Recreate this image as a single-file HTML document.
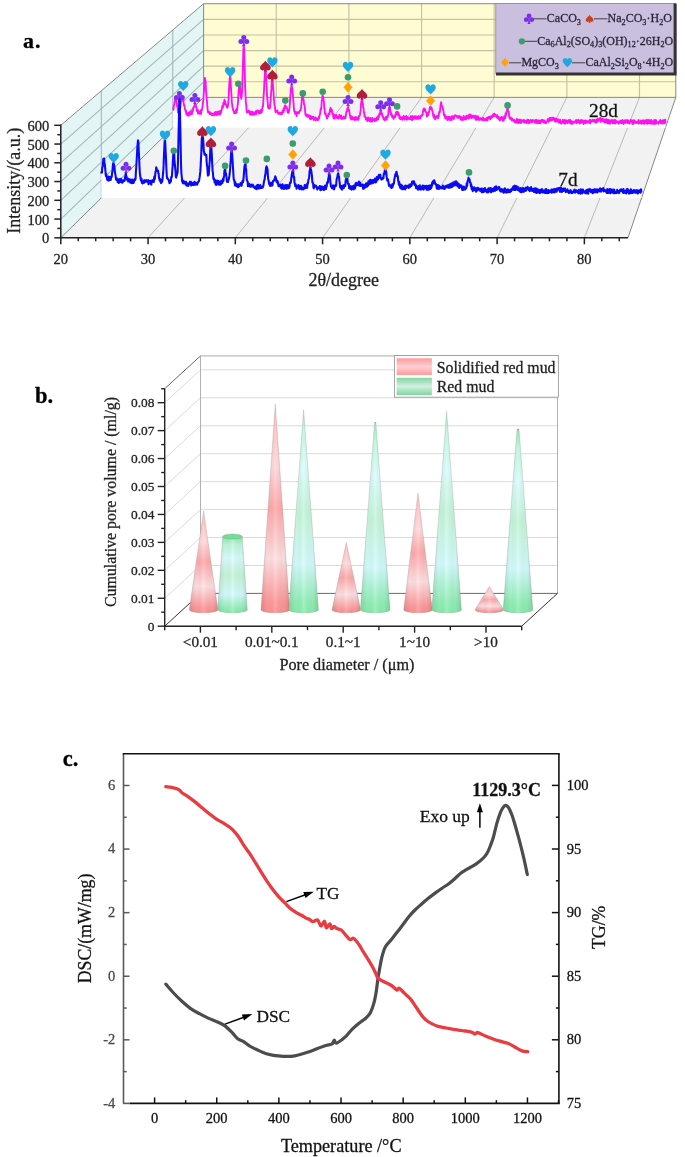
<!DOCTYPE html>
<html><head><meta charset="utf-8"><title>Figure</title>
<style>
html,body{margin:0;padding:0;background:#fff;}
body{width:685px;height:1157px;overflow:hidden;font-family:"Liberation Serif",serif;}
svg{display:block;filter:blur(0.45px);}
</style></head>
<body>
<svg width="685" height="1157" viewBox="0 0 685 1157">
<defs><linearGradient id="gR" x1="0" y1="0" x2="0" y2="1">
<stop offset="0" stop-color="#ffb0b2"/><stop offset="0.3" stop-color="#ffd9db"/><stop offset="0.5" stop-color="#ffa9ab"/>
<stop offset="0.74" stop-color="#ffe1e3"/><stop offset="0.95" stop-color="#ff999b"/><stop offset="1" stop-color="#ff9294"/></linearGradient><linearGradient id="gG" x1="0" y1="0" x2="0" y2="1">
<stop offset="0" stop-color="#86e8aa"/><stop offset="0.1" stop-color="#bef6da"/><stop offset="0.28" stop-color="#dafdfd"/><stop offset="0.5" stop-color="#c6f6da"/>
<stop offset="0.76" stop-color="#d4fcfe"/><stop offset="0.95" stop-color="#92f0b6"/><stop offset="1" stop-color="#8aeeb0"/></linearGradient><linearGradient id="gS" x1="0" y1="0" x2="1" y2="0">
<stop offset="0" stop-color="#000" stop-opacity="0.11"/><stop offset="0.25" stop-color="#000" stop-opacity="0.02"/>
<stop offset="0.5" stop-color="#fff" stop-opacity="0.12"/><stop offset="0.8" stop-color="#000" stop-opacity="0.03"/><stop offset="1" stop-color="#000" stop-opacity="0.13"/></linearGradient><linearGradient id="lR" x1="0" y1="0" x2="0" y2="1"><stop offset="0" stop-color="#ff9a9c"/><stop offset="0.5" stop-color="#ffd0d2"/><stop offset="1" stop-color="#ff9a9c"/></linearGradient><linearGradient id="lG" x1="0" y1="0" x2="0" y2="1"><stop offset="0" stop-color="#7fd6a0"/><stop offset="0.5" stop-color="#d2f0e0"/><stop offset="1" stop-color="#7fd6a0"/></linearGradient></defs>
<rect width="685" height="1157" fill="#fff"/>
<g id="panel-a">
<polygon points="203.61,97.38 675.80,97.38 675.80,3.73 203.61,3.73" fill="#fefcd2"/>
<polygon points="60.80,237.80 60.80,125.30 203.61,3.73 203.61,97.38" fill="#e3f6f5"/>
<polygon points="60.80,237.80 628.00,237.80 675.80,97.38 203.61,97.38" fill="#f2f2f2"/>
<g stroke="#c4c2a2" stroke-width="1.15" fill="none"><line x1="203.61" y1="81.78" x2="675.80" y2="81.78"/><line x1="203.61" y1="66.17" x2="675.80" y2="66.17"/><line x1="203.61" y1="50.56" x2="675.80" y2="50.56"/><line x1="203.61" y1="34.95" x2="675.80" y2="34.95"/><line x1="203.61" y1="19.34" x2="675.80" y2="19.34"/><line x1="276.26" y1="97.38" x2="276.26" y2="3.73"/><line x1="348.90" y1="97.38" x2="348.90" y2="3.73"/><line x1="421.55" y1="97.38" x2="421.55" y2="3.73"/><line x1="494.19" y1="97.38" x2="494.19" y2="3.73"/><line x1="566.84" y1="97.38" x2="566.84" y2="3.73"/><line x1="639.48" y1="97.38" x2="639.48" y2="3.73"/></g>
<g stroke="#a4b6b6" stroke-width="1.05" fill="none"><line x1="60.80" y1="219.05" x2="203.61" y2="81.78"/><line x1="60.80" y1="200.30" x2="203.61" y2="66.17"/><line x1="60.80" y1="181.55" x2="203.61" y2="50.56"/><line x1="60.80" y1="162.80" x2="203.61" y2="34.95"/><line x1="60.80" y1="144.05" x2="203.61" y2="19.34"/><line x1="101.30" y1="197.98" x2="101.30" y2="90.82"/><line x1="172.75" y1="127.73" x2="172.75" y2="30.00"/></g>
<g stroke="#b2b2b2" stroke-width="0.9" fill="none"><line x1="148.06" y1="237.80" x2="276.26" y2="97.38"/><line x1="235.32" y1="237.80" x2="348.90" y2="97.38"/><line x1="322.58" y1="237.80" x2="421.55" y2="97.38"/><line x1="409.85" y1="237.80" x2="494.19" y2="97.38"/><line x1="497.11" y1="237.80" x2="566.84" y2="97.38"/><line x1="584.37" y1="237.80" x2="639.48" y2="97.38"/></g>
<g stroke="#7a7a7a" stroke-width="0.9" fill="none"><line x1="203.61" y1="97.38" x2="675.80" y2="97.38"/><line x1="675.80" y1="97.38" x2="675.80" y2="3.73"/><line x1="675.80" y1="3.73" x2="203.61" y2="3.73"/><line x1="203.61" y1="3.73" x2="203.61" y2="97.38"/><line x1="60.80" y1="125.30" x2="203.61" y2="3.73"/><line x1="60.80" y1="237.80" x2="203.61" y2="97.38"/><line x1="628.00" y1="237.80" x2="675.80" y2="97.38"/></g>
<polygon points="172.7,108.7 173.0,108.5 173.4,109.8 173.7,106.9 174.1,105.0 174.4,104.0 174.8,100.9 175.1,97.4 175.5,96.6 175.8,99.0 176.2,98.3 176.5,101.5 176.9,103.6 177.2,106.7 177.6,107.6 177.9,112.2 178.3,109.8 178.6,112.7 179.0,108.9 179.3,111.7 179.7,109.3 180.0,108.9 180.4,107.4 180.7,103.9 181.1,101.8 181.4,101.6 181.8,97.4 182.1,95.6 182.5,98.3 182.8,98.3 183.2,98.3 183.5,101.5 183.9,105.4 184.2,104.9 184.6,106.3 184.9,109.2 185.3,109.4 185.6,111.3 186.0,110.6 186.3,114.2 186.7,114.8 187.0,113.2 187.4,113.3 187.7,112.9 188.1,115.8 188.4,115.5 188.8,114.6 189.1,112.5 189.5,112.5 189.8,114.9 190.2,112.4 190.5,114.4 190.9,113.1 191.2,111.2 191.6,111.6 191.9,114.1 192.3,110.9 192.6,111.5 193.0,110.8 193.3,108.0 193.7,107.1 194.0,107.3 194.4,105.7 194.7,104.2 195.1,104.3 195.4,104.5 195.8,105.4 196.1,107.7 196.5,107.2 196.8,111.0 197.2,109.5 197.5,110.0 197.9,113.7 198.2,110.1 198.6,112.0 198.9,112.7 199.3,112.3 199.6,113.9 200.0,113.2 200.3,112.4 200.7,110.1 201.0,114.0 201.4,111.1 201.7,110.5 202.1,108.9 202.4,107.3 202.8,104.6 203.1,101.4 203.5,99.3 203.8,92.6 204.2,87.9 204.5,83.5 204.9,77.9 205.2,80.6 205.6,81.0 205.9,88.5 206.3,94.4 206.6,97.9 207.0,101.8 207.3,106.1 207.7,110.3 208.0,112.3 208.4,112.2 208.7,111.6 209.1,112.0 209.4,113.6 209.8,112.2 210.1,114.3 210.5,112.6 210.8,113.7 211.2,113.5 211.5,113.6 211.9,115.0 212.2,115.3 212.6,114.9 212.9,114.3 213.3,113.3 213.6,113.3 214.0,113.7 214.3,115.3 214.7,114.9 215.0,112.2 215.4,112.8 215.7,112.0 216.1,113.0 216.4,115.2 216.8,114.3 217.1,111.8 217.5,114.8 217.8,114.2 218.2,113.5 218.5,111.6 218.9,111.5 219.2,111.6 219.6,114.8 219.9,112.7 220.3,111.0 220.6,113.7 221.0,111.8 221.3,110.6 221.7,109.9 222.0,108.0 222.4,105.9 222.7,107.6 223.1,106.5 223.4,102.8 223.8,102.6 224.1,103.2 224.5,99.6 224.8,104.2 225.2,101.5 225.5,103.9 225.9,103.9 226.2,105.6 226.6,106.3 226.9,107.1 227.3,107.8 227.6,107.6 228.0,104.8 228.3,102.3 228.7,98.1 229.0,89.0 229.4,83.1 229.7,78.9 230.1,75.3 230.4,76.7 230.8,85.2 231.1,90.4 231.5,96.1 231.8,102.4 232.2,104.7 232.5,107.7 232.9,108.4 233.2,110.5 233.6,110.5 233.9,111.8 234.3,113.3 234.6,113.0 235.0,112.5 235.3,112.1 235.7,113.1 236.0,110.0 236.4,112.8 236.7,108.7 237.1,110.4 237.4,106.7 237.8,104.5 238.1,101.6 238.5,92.8 238.8,89.1 239.2,84.5 239.5,83.9 239.9,85.3 240.2,90.6 240.6,95.6 240.9,96.6 241.3,98.9 241.6,96.9 242.0,92.7 242.3,85.2 242.7,73.4 243.0,63.3 243.4,48.9 243.7,44.6 244.1,48.6 244.4,57.6 244.8,72.3 245.1,85.9 245.5,95.1 245.8,102.6 246.2,104.4 246.5,110.1 246.9,112.0 247.2,112.6 247.6,112.4 247.9,112.0 248.3,110.7 248.6,110.4 249.0,112.0 249.3,111.1 249.7,113.0 250.0,114.5 250.4,111.7 250.7,113.1 251.1,111.6 251.4,114.8 251.8,113.5 252.1,113.3 252.5,113.0 252.8,111.8 253.2,114.8 253.5,112.8 253.9,114.8 254.2,114.0 254.6,114.5 254.9,112.1 255.3,113.4 255.6,113.2 256.0,111.0 256.3,114.2 256.7,111.8 257.0,112.3 257.4,110.5 257.7,112.0 258.1,110.8 258.4,111.4 258.8,113.7 259.1,110.9 259.5,113.0 259.8,111.1 260.2,112.3 260.5,113.0 260.9,110.3 261.2,109.6 261.6,112.5 261.9,109.3 262.3,110.1 262.6,106.2 263.0,106.5 263.3,102.6 263.7,94.6 264.0,91.0 264.4,81.3 264.7,77.5 265.1,69.4 265.4,69.2 265.8,70.2 266.1,79.2 266.5,83.5 266.8,91.3 267.2,98.1 267.5,100.4 267.9,105.5 268.2,107.5 268.6,108.4 268.9,107.8 269.3,108.1 269.6,108.3 270.0,108.0 270.3,102.7 270.7,101.5 271.0,94.0 271.4,88.9 271.7,82.1 272.1,77.8 272.4,78.8 272.8,82.6 273.1,87.4 273.5,92.2 273.8,99.8 274.2,100.5 274.5,105.2 274.9,106.3 275.2,110.1 275.6,112.4 275.9,110.5 276.3,111.7 276.6,110.9 277.0,111.3 277.4,110.4 277.7,112.7 278.1,113.3 278.4,113.8 278.8,113.7 279.1,113.2 279.5,112.6 279.8,114.0 280.2,113.3 280.5,113.4 280.9,112.8 281.2,114.4 281.6,113.1 281.9,114.0 282.3,112.5 282.6,110.7 283.0,111.7 283.3,112.5 283.7,108.2 284.0,110.8 284.4,108.2 284.7,106.3 285.1,105.2 285.4,105.8 285.8,107.6 286.1,107.3 286.5,106.7 286.8,108.9 287.2,108.7 287.5,111.8 287.9,112.7 288.2,110.8 288.6,112.9 288.9,111.7 289.3,109.8 289.6,107.0 290.0,101.1 290.3,96.8 290.7,92.3 291.0,87.9 291.4,86.6 291.7,86.0 292.1,87.9 292.4,89.5 292.8,94.9 293.1,98.0 293.5,102.8 293.8,107.5 294.2,111.1 294.5,111.9 294.9,112.9 295.2,113.9 295.6,111.8 295.9,112.6 296.3,112.3 296.6,116.0 297.0,113.1 297.3,112.7 297.7,112.1 298.0,113.2 298.4,113.4 298.7,113.1 299.1,112.9 299.4,111.7 299.8,111.0 300.1,110.2 300.5,110.4 300.8,109.1 301.2,107.1 301.5,103.5 301.9,98.2 302.2,95.6 302.6,96.3 302.9,95.1 303.3,98.9 303.6,100.0 304.0,104.3 304.3,104.3 304.7,106.8 305.0,109.3 305.4,114.6 305.7,114.2 306.1,115.2 306.4,116.2 306.8,114.4 307.1,116.2 307.5,116.8 307.8,115.1 308.2,115.5 308.5,115.3 308.9,116.7 309.2,115.4 309.6,115.6 309.9,118.9 310.3,119.0 310.6,116.1 311.0,119.4 311.3,116.4 311.7,118.1 312.0,117.7 312.4,116.9 312.7,118.0 313.1,117.6 313.4,116.8 313.8,120.0 314.1,119.9 314.5,118.2 314.8,118.9 315.2,117.4 315.5,119.9 315.9,120.2 316.2,118.3 316.6,118.2 316.9,118.6 317.3,119.0 317.6,120.1 318.0,119.8 318.3,119.9 318.7,116.9 319.0,118.6 319.4,116.4 319.7,114.9 320.1,113.8 320.4,111.2 320.8,108.5 321.1,109.6 321.5,106.1 321.8,100.3 322.2,99.6 322.5,95.1 322.9,97.8 323.2,96.5 323.6,100.2 323.9,102.0 324.3,108.7 324.6,108.4 325.0,113.9 325.3,114.2 325.7,113.3 326.0,114.9 326.4,116.2 326.7,118.1 327.1,118.5 327.4,115.8 327.8,116.2 328.1,116.5 328.5,113.7 328.8,114.2 329.2,114.4 329.5,114.3 329.9,109.5 330.2,110.6 330.6,107.8 330.9,108.5 331.3,111.1 331.6,111.9 332.0,110.2 332.3,113.7 332.7,114.4 333.0,113.6 333.4,118.0 333.7,114.3 334.1,118.7 334.4,114.9 334.8,118.5 335.1,115.5 335.5,116.8 335.8,115.7 336.2,114.9 336.5,116.1 336.9,117.9 337.2,118.2 337.6,116.8 337.9,117.4 338.3,117.2 338.6,118.6 339.0,117.2 339.3,114.8 339.7,116.4 340.0,116.6 340.4,116.4 340.7,118.3 341.1,115.5 341.4,118.4 341.8,118.9 342.1,118.2 342.5,118.6 342.8,118.8 343.2,117.1 343.5,116.9 343.9,116.6 344.2,118.6 344.6,118.2 344.9,118.3 345.3,118.3 345.6,117.3 346.0,113.8 346.3,112.5 346.7,111.0 347.0,111.7 347.4,108.2 347.7,107.9 348.1,106.9 348.4,110.5 348.8,109.7 349.1,109.9 349.5,112.5 349.8,115.6 350.2,116.4 350.5,118.5 350.9,116.1 351.2,119.5 351.6,118.1 351.9,116.4 352.3,117.5 352.6,117.5 353.0,119.5 353.3,118.0 353.7,118.6 354.0,119.4 354.4,117.3 354.7,120.0 355.1,119.5 355.4,119.7 355.8,117.0 356.1,119.5 356.5,119.7 356.8,119.2 357.2,118.5 357.5,117.4 357.9,119.6 358.2,119.8 358.6,119.3 358.9,115.9 359.3,116.0 359.6,115.9 360.0,114.4 360.3,112.3 360.7,110.2 361.0,104.2 361.4,101.0 361.7,101.2 362.1,98.9 362.4,103.7 362.8,103.1 363.1,107.5 363.5,107.8 363.8,112.6 364.2,112.4 364.5,116.6 364.9,116.3 365.2,116.4 365.6,117.7 365.9,119.5 366.3,118.0 366.6,118.9 367.0,119.7 367.3,121.0 367.7,119.3 368.0,117.4 368.4,119.8 368.7,118.0 369.1,120.5 369.4,121.0 369.8,119.2 370.1,119.2 370.5,117.9 370.8,121.6 371.2,120.6 371.5,118.6 371.9,120.7 372.2,121.4 372.6,117.9 372.9,119.9 373.3,119.4 373.6,120.1 374.0,120.1 374.3,119.2 374.7,121.3 375.0,118.7 375.4,120.3 375.7,120.3 376.1,119.2 376.4,120.3 376.8,117.5 377.1,117.5 377.5,119.7 377.8,116.4 378.2,119.3 378.5,116.4 378.9,117.2 379.2,114.1 379.6,113.2 379.9,114.5 380.3,113.8 380.6,111.2 381.0,111.5 381.3,114.2 381.7,114.6 382.0,113.1 382.4,116.6 382.7,115.4 383.1,117.3 383.4,118.9 383.8,117.8 384.1,119.7 384.5,120.3 384.8,118.9 385.2,118.3 385.5,118.8 385.9,119.4 386.2,116.4 386.6,119.7 386.9,118.2 387.3,117.5 387.6,117.2 388.0,115.4 388.3,114.3 388.7,109.0 389.0,111.2 389.4,110.8 389.7,108.2 390.1,109.0 390.4,110.1 390.8,114.5 391.1,112.8 391.5,114.0 391.8,114.4 392.2,117.3 392.5,116.0 392.9,116.9 393.2,116.3 393.6,118.8 393.9,118.0 394.3,116.4 394.6,117.1 395.0,117.3 395.3,114.8 395.7,113.7 396.0,112.6 396.4,111.9 396.7,114.7 397.1,112.3 397.4,111.8 397.8,112.1 398.1,115.3 398.5,113.0 398.8,115.7 399.2,114.8 399.5,118.6 399.9,116.4 400.2,118.4 400.6,119.2 400.9,118.1 401.3,117.6 401.6,118.8 402.0,117.4 402.3,119.5 402.7,119.7 403.0,116.7 403.4,116.9 403.7,116.0 404.1,117.6 404.4,118.6 404.8,119.5 405.1,117.0 405.5,116.9 405.8,116.6 406.2,115.9 406.5,118.5 406.9,119.7 407.2,116.9 407.6,119.0 407.9,117.2 408.3,118.3 408.6,118.4 409.0,118.9 409.3,119.2 409.7,118.7 410.0,117.7 410.4,119.1 410.7,116.8 411.1,116.0 411.4,118.5 411.8,120.0 412.1,118.7 412.5,119.8 412.8,116.0 413.2,117.1 413.5,118.9 413.9,118.8 414.2,117.4 414.6,117.2 414.9,116.2 415.3,118.5 415.6,117.5 416.0,116.3 416.3,118.9 416.7,117.7 417.0,116.6 417.4,118.9 417.7,118.8 418.1,117.7 418.4,118.9 418.8,116.0 419.1,117.9 419.5,117.9 419.8,118.2 420.2,118.6 420.5,117.2 420.9,117.0 421.2,115.7 421.6,115.2 421.9,115.8 422.3,114.9 422.6,115.0 423.0,111.0 423.3,110.0 423.7,108.7 424.0,108.4 424.4,110.9 424.7,110.4 425.1,109.2 425.4,111.5 425.8,111.9 426.1,112.1 426.5,113.7 426.8,116.5 427.2,115.6 427.5,113.9 427.9,112.8 428.2,115.3 428.6,114.0 428.9,112.2 429.3,110.5 429.6,108.8 430.0,107.0 430.3,109.1 430.7,107.1 431.0,107.2 431.4,107.7 431.7,108.0 432.1,110.6 432.4,111.0 432.8,113.3 433.1,115.0 433.5,116.7 433.8,117.7 434.2,115.0 434.5,116.9 434.9,117.0 435.2,119.5 435.6,119.0 435.9,116.8 436.3,116.4 436.6,117.4 437.0,117.2 437.3,115.6 437.7,116.9 438.0,118.2 438.4,116.9 438.7,116.0 439.1,112.2 439.4,111.5 439.8,112.3 440.1,110.1 440.5,105.7 440.8,104.6 441.2,102.2 441.5,104.2 441.9,106.1 442.2,105.9 442.6,107.1 442.9,109.1 443.3,110.6 443.6,112.1 444.0,115.4 444.3,114.7 444.7,114.7 445.0,117.5 445.4,118.6 445.7,117.2 446.1,118.4 446.4,116.6 446.8,118.0 447.1,117.9 447.5,120.1 447.8,117.4 448.2,117.0 448.5,119.4 448.9,119.5 449.2,116.8 449.6,117.2 449.9,116.7 450.3,120.1 450.6,120.1 451.0,119.7 451.3,118.8 451.7,119.8 452.0,116.2 452.4,116.5 452.7,116.3 453.1,116.8 453.4,116.7 453.8,119.1 454.1,116.6 454.5,115.6 454.8,115.3 455.2,115.2 455.5,115.8 455.9,116.1 456.2,116.0 456.6,116.6 456.9,115.6 457.3,117.9 457.6,116.6 458.0,117.2 458.3,117.8 458.7,117.9 459.0,115.9 459.4,117.9 459.7,116.1 460.1,117.8 460.4,117.1 460.8,119.7 461.1,117.0 461.5,119.0 461.8,119.7 462.2,118.1 462.5,120.0 462.9,119.6 463.2,117.5 463.6,115.9 463.9,118.3 464.3,119.3 464.6,118.1 465.0,117.2 465.3,119.3 465.7,118.2 466.0,119.4 466.4,115.7 466.7,118.0 467.1,118.1 467.4,116.2 467.8,116.9 468.1,116.4 468.5,115.1 468.8,118.6 469.2,115.9 469.5,118.0 469.9,114.4 470.2,115.2 470.6,115.1 470.9,114.8 471.3,118.1 471.6,116.8 472.0,116.7 472.3,116.1 472.7,115.8 473.0,117.8 473.4,115.8 473.7,117.0 474.1,117.5 474.4,117.3 474.8,117.2 475.1,115.6 475.5,119.5 475.8,119.3 476.2,116.1 476.5,119.9 476.9,117.6 477.2,118.2 477.6,119.2 477.9,116.1 478.3,117.5 478.6,119.0 479.0,120.0 479.3,119.0 479.7,118.2 480.0,119.7 480.4,118.2 480.7,118.1 481.1,119.6 481.4,119.1 481.8,118.4 482.1,119.0 482.5,120.1 482.8,118.0 483.2,117.8 483.5,119.0 483.9,120.0 484.2,119.7 484.6,120.3 484.9,120.5 485.3,118.8 485.6,120.1 486.0,119.6 486.3,119.4 486.7,118.4 487.0,117.8 487.4,120.6 487.7,117.6 488.1,117.4 488.4,117.6 488.8,118.4 489.1,116.8 489.5,117.7 489.8,116.9 490.2,119.4 490.5,116.5 490.9,117.9 491.2,118.2 491.6,116.1 491.9,116.0 492.3,117.2 492.6,116.6 493.0,116.1 493.3,114.0 493.7,116.3 494.0,115.0 494.4,113.6 494.7,115.3 495.1,115.8 495.4,114.6 495.8,116.1 496.1,116.3 496.5,115.7 496.8,117.3 497.2,115.2 497.5,118.1 497.9,116.6 498.2,117.9 498.6,116.7 498.9,119.2 499.3,118.3 499.6,120.5 500.0,120.2 500.3,119.8 500.7,117.7 501.0,117.2 501.4,117.5 501.7,116.9 502.1,119.4 502.4,117.6 502.8,120.8 503.1,120.8 503.5,120.4 503.8,119.9 504.2,116.3 504.5,117.5 504.9,116.1 505.2,118.3 505.6,113.2 505.9,115.8 506.3,113.4 506.6,111.7 507.0,110.8 507.3,108.1 507.7,108.0 508.0,111.1 508.4,111.6 508.7,111.5 509.1,115.6 509.4,117.5 509.8,118.7 510.1,118.5 510.5,118.0 510.8,117.4 511.2,119.7 511.5,119.9 511.9,120.6 512.2,118.6 512.6,118.9 512.9,119.8 513.3,119.9 513.6,120.9 514.0,121.0 514.3,120.4 514.7,120.1 515.0,122.6 515.4,121.3 515.7,121.5 516.1,120.6 516.4,122.6 516.8,119.1 517.1,119.0 517.5,121.1 517.8,122.2 518.2,123.1 518.5,120.5 518.9,119.8 519.2,122.3 519.6,119.6 519.9,122.7 520.3,119.7 520.6,121.3 521.0,123.1 521.3,120.1 521.7,121.6 522.0,121.4 522.4,120.8 522.7,121.4 523.1,120.2 523.4,121.9 523.8,122.2 524.1,119.9 524.5,122.7 524.8,122.0 525.2,120.9 525.5,121.5 525.9,122.5 526.2,120.7 526.6,120.4 526.9,123.1 527.3,122.8 527.6,119.7 528.0,121.4 528.3,122.2 528.7,119.9 529.0,123.4 529.4,121.3 529.7,121.7 530.1,120.7 530.4,121.0 530.8,120.0 531.1,121.9 531.5,122.5 531.8,120.7 532.2,122.0 532.5,119.9 532.9,120.9 533.2,120.5 533.6,120.5 533.9,120.3 534.3,121.4 534.6,122.2 535.0,122.9 535.3,121.9 535.7,120.0 536.0,122.6 536.4,119.8 536.7,122.9 537.1,123.2 537.4,123.0 537.8,120.5 538.1,120.3 538.5,120.7 538.8,123.0 539.2,122.8 539.5,123.1 539.9,120.4 540.2,123.3 540.6,121.9 540.9,121.5 541.3,121.4 541.6,119.9 542.0,120.8 542.3,121.7 542.7,120.0 543.0,121.0 543.4,122.3 543.7,122.2 544.1,120.3 544.4,121.9 544.8,121.5 545.1,123.0 545.5,121.4 545.8,122.0 546.2,123.0 546.5,121.8 546.9,121.4 547.2,120.8 547.6,119.5 547.9,119.4 548.3,118.8 548.6,121.9 549.0,118.9 549.3,120.9 549.7,117.9 550.0,120.3 550.4,117.9 550.7,120.6 551.1,118.5 551.4,119.8 551.8,120.3 552.1,117.6 552.5,118.2 552.8,119.8 553.2,118.4 553.5,117.7 553.9,118.8 554.2,118.9 554.6,118.4 554.9,121.3 555.3,119.8 555.6,121.8 556.0,118.5 556.3,118.9 556.7,120.6 557.0,120.7 557.4,121.4 557.7,119.4 558.1,119.2 558.4,122.4 558.8,119.9 559.1,122.6 559.5,122.6 559.8,122.1 560.2,119.8 560.5,123.3 560.9,123.2 561.2,122.2 561.6,123.6 561.9,122.1 562.3,121.0 562.6,119.9 563.0,122.2 563.3,121.1 563.7,121.6 564.0,123.1 564.4,119.8 564.7,121.5 565.1,123.8 565.4,122.9 565.8,120.3 566.1,120.2 566.5,122.1 566.8,121.7 567.2,120.6 567.5,123.3 567.9,121.2 568.2,121.3 568.6,122.1 568.9,119.9 569.3,121.6 569.6,122.9 570.0,121.5 570.3,120.0 570.7,122.1 571.0,123.9 571.4,122.9 571.7,121.2 572.1,121.3 572.4,123.2 572.8,123.8 573.1,122.0 573.5,122.0 573.8,122.6 574.2,122.4 574.5,121.9 574.9,121.3 575.2,121.9 575.6,120.8 575.9,120.2 576.3,123.4 576.6,120.4 577.0,120.1 577.3,120.1 577.7,120.1 578.0,122.4 578.4,122.6 578.7,119.8 579.1,120.6 579.4,120.9 579.8,123.6 580.1,123.1 580.5,122.5 580.8,120.3 581.2,121.3 581.5,122.5 581.9,119.9 582.2,121.9 582.6,121.1 582.9,121.8 583.3,123.1 583.6,124.0 584.0,120.5 584.3,121.3 584.7,122.2 585.0,122.0 585.4,123.2 585.7,120.4 586.1,120.9 586.4,121.7 586.8,121.0 587.1,122.9 587.5,122.2 587.8,121.3 588.2,121.9 588.5,121.3 588.9,121.5 589.2,122.8 589.6,119.8 589.9,122.0 590.3,123.3 590.6,119.9 591.0,120.6 591.3,120.5 591.7,121.6 592.0,121.6 592.4,120.3 592.7,119.8 593.1,120.4 593.4,120.5 593.8,121.2 594.1,119.9 594.5,120.5 594.8,119.9 595.2,122.6 595.5,122.3 595.9,120.1 596.2,121.8 596.6,122.4 596.9,119.5 597.3,121.9 597.6,118.6 598.0,119.2 598.3,120.9 598.7,120.7 599.0,120.3 599.4,120.6 599.7,118.2 600.1,118.2 600.4,117.9 600.8,121.9 601.1,119.3 601.5,120.0 601.8,119.7 602.2,118.5 602.5,121.0 602.9,120.0 603.2,121.6 603.6,120.6 603.9,119.3 604.3,119.5 604.6,122.7 605.0,121.7 605.3,122.1 605.7,120.9 606.0,119.4 606.4,119.2 606.7,122.4 607.1,121.1 607.4,123.4 607.8,120.9 608.1,119.7 608.5,122.6 608.8,123.6 609.2,123.4 609.5,120.2 609.9,123.7 610.2,122.2 610.6,120.9 610.9,120.5 611.3,120.3 611.6,120.6 612.0,119.9 612.3,123.1 612.7,122.0 613.0,123.2 613.4,121.9 613.7,120.5 614.1,122.4 614.4,119.8 614.8,123.6 615.1,119.9 615.5,120.7 615.8,123.1 616.2,120.9 616.5,122.1 616.9,122.6 617.2,121.9 617.6,121.5 617.9,122.9 618.3,122.8 618.6,123.6 619.0,123.6 619.3,121.3 619.7,122.0 620.0,122.6 620.4,122.5 620.7,120.7 621.1,123.1 621.4,122.4 621.8,123.2 622.1,120.9 622.5,119.9 622.8,121.8 623.2,121.7 623.5,124.0 623.9,121.1 624.2,121.1 624.6,120.4 624.9,120.3 625.3,123.0 625.6,120.4 626.0,120.6 626.3,120.1 626.7,120.1 627.0,120.9 627.4,123.1 627.7,120.2 628.1,120.3 628.4,122.2 628.8,122.9 629.1,122.4 629.5,123.5 629.8,123.4 630.2,120.7 630.5,119.9 630.9,120.6 631.2,120.7 631.6,120.3 631.9,120.9 632.3,124.0 632.6,122.4 633.0,123.5 633.3,120.1 633.7,123.7 634.0,122.0 634.4,121.8 634.7,120.5 635.1,122.2 635.4,122.6 635.8,123.0 636.1,122.1 636.5,122.8 636.8,122.0 637.2,122.5 637.5,121.4 637.9,122.6 638.2,123.4 638.6,119.9 638.9,123.5 639.3,121.4 639.6,121.4 640.0,121.9 640.3,122.2 640.7,123.1 641.0,120.4 641.4,123.8 641.7,120.8 642.1,120.9 642.4,122.1 642.8,123.2 643.1,120.1 643.5,123.6 643.8,120.6 644.2,123.9 644.5,120.4 644.9,123.3 645.2,122.6 645.6,122.1 645.9,121.3 646.3,119.9 646.6,123.3 647.0,122.4 647.3,123.9 647.7,120.3 648.0,119.8 648.4,120.8 648.7,123.0 649.1,120.1 649.4,123.4 649.8,120.3 650.1,122.5 650.5,122.9 650.8,123.6 651.2,120.0 651.5,123.1 651.9,122.2 652.2,123.7 652.6,121.1 652.9,123.0 653.3,123.8 653.6,123.4 654.0,123.8 654.3,120.0 654.7,123.8 655.0,123.6 655.4,123.7 655.7,120.0 656.1,120.4 656.4,123.5 656.8,122.3 657.1,122.4 657.5,122.3 657.8,122.6 658.2,122.9 658.5,123.7 658.9,121.6 659.2,121.6 659.6,122.7 659.9,120.9 660.3,119.9 660.6,120.4 661.0,123.4 661.3,122.5 661.7,121.0 662.0,120.8 662.4,121.7 662.7,123.6 663.1,120.1 663.4,120.1 663.8,122.0 664.1,120.2 664.5,123.4 664.8,123.1 665.2,119.7 665.5,123.1 665.5,127.7 172.7,127.7" fill="#ffffff"/>
<polyline points="172.7,108.7 173.0,108.5 173.4,109.8 173.7,106.9 174.1,105.0 174.4,104.0 174.8,100.9 175.1,97.4 175.5,96.6 175.8,99.0 176.2,98.3 176.5,101.5 176.9,103.6 177.2,106.7 177.6,107.6 177.9,112.2 178.3,109.8 178.6,112.7 179.0,108.9 179.3,111.7 179.7,109.3 180.0,108.9 180.4,107.4 180.7,103.9 181.1,101.8 181.4,101.6 181.8,97.4 182.1,95.6 182.5,98.3 182.8,98.3 183.2,98.3 183.5,101.5 183.9,105.4 184.2,104.9 184.6,106.3 184.9,109.2 185.3,109.4 185.6,111.3 186.0,110.6 186.3,114.2 186.7,114.8 187.0,113.2 187.4,113.3 187.7,112.9 188.1,115.8 188.4,115.5 188.8,114.6 189.1,112.5 189.5,112.5 189.8,114.9 190.2,112.4 190.5,114.4 190.9,113.1 191.2,111.2 191.6,111.6 191.9,114.1 192.3,110.9 192.6,111.5 193.0,110.8 193.3,108.0 193.7,107.1 194.0,107.3 194.4,105.7 194.7,104.2 195.1,104.3 195.4,104.5 195.8,105.4 196.1,107.7 196.5,107.2 196.8,111.0 197.2,109.5 197.5,110.0 197.9,113.7 198.2,110.1 198.6,112.0 198.9,112.7 199.3,112.3 199.6,113.9 200.0,113.2 200.3,112.4 200.7,110.1 201.0,114.0 201.4,111.1 201.7,110.5 202.1,108.9 202.4,107.3 202.8,104.6 203.1,101.4 203.5,99.3 203.8,92.6 204.2,87.9 204.5,83.5 204.9,77.9 205.2,80.6 205.6,81.0 205.9,88.5 206.3,94.4 206.6,97.9 207.0,101.8 207.3,106.1 207.7,110.3 208.0,112.3 208.4,112.2 208.7,111.6 209.1,112.0 209.4,113.6 209.8,112.2 210.1,114.3 210.5,112.6 210.8,113.7 211.2,113.5 211.5,113.6 211.9,115.0 212.2,115.3 212.6,114.9 212.9,114.3 213.3,113.3 213.6,113.3 214.0,113.7 214.3,115.3 214.7,114.9 215.0,112.2 215.4,112.8 215.7,112.0 216.1,113.0 216.4,115.2 216.8,114.3 217.1,111.8 217.5,114.8 217.8,114.2 218.2,113.5 218.5,111.6 218.9,111.5 219.2,111.6 219.6,114.8 219.9,112.7 220.3,111.0 220.6,113.7 221.0,111.8 221.3,110.6 221.7,109.9 222.0,108.0 222.4,105.9 222.7,107.6 223.1,106.5 223.4,102.8 223.8,102.6 224.1,103.2 224.5,99.6 224.8,104.2 225.2,101.5 225.5,103.9 225.9,103.9 226.2,105.6 226.6,106.3 226.9,107.1 227.3,107.8 227.6,107.6 228.0,104.8 228.3,102.3 228.7,98.1 229.0,89.0 229.4,83.1 229.7,78.9 230.1,75.3 230.4,76.7 230.8,85.2 231.1,90.4 231.5,96.1 231.8,102.4 232.2,104.7 232.5,107.7 232.9,108.4 233.2,110.5 233.6,110.5 233.9,111.8 234.3,113.3 234.6,113.0 235.0,112.5 235.3,112.1 235.7,113.1 236.0,110.0 236.4,112.8 236.7,108.7 237.1,110.4 237.4,106.7 237.8,104.5 238.1,101.6 238.5,92.8 238.8,89.1 239.2,84.5 239.5,83.9 239.9,85.3 240.2,90.6 240.6,95.6 240.9,96.6 241.3,98.9 241.6,96.9 242.0,92.7 242.3,85.2 242.7,73.4 243.0,63.3 243.4,48.9 243.7,44.6 244.1,48.6 244.4,57.6 244.8,72.3 245.1,85.9 245.5,95.1 245.8,102.6 246.2,104.4 246.5,110.1 246.9,112.0 247.2,112.6 247.6,112.4 247.9,112.0 248.3,110.7 248.6,110.4 249.0,112.0 249.3,111.1 249.7,113.0 250.0,114.5 250.4,111.7 250.7,113.1 251.1,111.6 251.4,114.8 251.8,113.5 252.1,113.3 252.5,113.0 252.8,111.8 253.2,114.8 253.5,112.8 253.9,114.8 254.2,114.0 254.6,114.5 254.9,112.1 255.3,113.4 255.6,113.2 256.0,111.0 256.3,114.2 256.7,111.8 257.0,112.3 257.4,110.5 257.7,112.0 258.1,110.8 258.4,111.4 258.8,113.7 259.1,110.9 259.5,113.0 259.8,111.1 260.2,112.3 260.5,113.0 260.9,110.3 261.2,109.6 261.6,112.5 261.9,109.3 262.3,110.1 262.6,106.2 263.0,106.5 263.3,102.6 263.7,94.6 264.0,91.0 264.4,81.3 264.7,77.5 265.1,69.4 265.4,69.2 265.8,70.2 266.1,79.2 266.5,83.5 266.8,91.3 267.2,98.1 267.5,100.4 267.9,105.5 268.2,107.5 268.6,108.4 268.9,107.8 269.3,108.1 269.6,108.3 270.0,108.0 270.3,102.7 270.7,101.5 271.0,94.0 271.4,88.9 271.7,82.1 272.1,77.8 272.4,78.8 272.8,82.6 273.1,87.4 273.5,92.2 273.8,99.8 274.2,100.5 274.5,105.2 274.9,106.3 275.2,110.1 275.6,112.4 275.9,110.5 276.3,111.7 276.6,110.9 277.0,111.3 277.4,110.4 277.7,112.7 278.1,113.3 278.4,113.8 278.8,113.7 279.1,113.2 279.5,112.6 279.8,114.0 280.2,113.3 280.5,113.4 280.9,112.8 281.2,114.4 281.6,113.1 281.9,114.0 282.3,112.5 282.6,110.7 283.0,111.7 283.3,112.5 283.7,108.2 284.0,110.8 284.4,108.2 284.7,106.3 285.1,105.2 285.4,105.8 285.8,107.6 286.1,107.3 286.5,106.7 286.8,108.9 287.2,108.7 287.5,111.8 287.9,112.7 288.2,110.8 288.6,112.9 288.9,111.7 289.3,109.8 289.6,107.0 290.0,101.1 290.3,96.8 290.7,92.3 291.0,87.9 291.4,86.6 291.7,86.0 292.1,87.9 292.4,89.5 292.8,94.9 293.1,98.0 293.5,102.8 293.8,107.5 294.2,111.1 294.5,111.9 294.9,112.9 295.2,113.9 295.6,111.8 295.9,112.6 296.3,112.3 296.6,116.0 297.0,113.1 297.3,112.7 297.7,112.1 298.0,113.2 298.4,113.4 298.7,113.1 299.1,112.9 299.4,111.7 299.8,111.0 300.1,110.2 300.5,110.4 300.8,109.1 301.2,107.1 301.5,103.5 301.9,98.2 302.2,95.6 302.6,96.3 302.9,95.1 303.3,98.9 303.6,100.0 304.0,104.3 304.3,104.3 304.7,106.8 305.0,109.3 305.4,114.6 305.7,114.2 306.1,115.2 306.4,116.2 306.8,114.4 307.1,116.2 307.5,116.8 307.8,115.1 308.2,115.5 308.5,115.3 308.9,116.7 309.2,115.4 309.6,115.6 309.9,118.9 310.3,119.0 310.6,116.1 311.0,119.4 311.3,116.4 311.7,118.1 312.0,117.7 312.4,116.9 312.7,118.0 313.1,117.6 313.4,116.8 313.8,120.0 314.1,119.9 314.5,118.2 314.8,118.9 315.2,117.4 315.5,119.9 315.9,120.2 316.2,118.3 316.6,118.2 316.9,118.6 317.3,119.0 317.6,120.1 318.0,119.8 318.3,119.9 318.7,116.9 319.0,118.6 319.4,116.4 319.7,114.9 320.1,113.8 320.4,111.2 320.8,108.5 321.1,109.6 321.5,106.1 321.8,100.3 322.2,99.6 322.5,95.1 322.9,97.8 323.2,96.5 323.6,100.2 323.9,102.0 324.3,108.7 324.6,108.4 325.0,113.9 325.3,114.2 325.7,113.3 326.0,114.9 326.4,116.2 326.7,118.1 327.1,118.5 327.4,115.8 327.8,116.2 328.1,116.5 328.5,113.7 328.8,114.2 329.2,114.4 329.5,114.3 329.9,109.5 330.2,110.6 330.6,107.8 330.9,108.5 331.3,111.1 331.6,111.9 332.0,110.2 332.3,113.7 332.7,114.4 333.0,113.6 333.4,118.0 333.7,114.3 334.1,118.7 334.4,114.9 334.8,118.5 335.1,115.5 335.5,116.8 335.8,115.7 336.2,114.9 336.5,116.1 336.9,117.9 337.2,118.2 337.6,116.8 337.9,117.4 338.3,117.2 338.6,118.6 339.0,117.2 339.3,114.8 339.7,116.4 340.0,116.6 340.4,116.4 340.7,118.3 341.1,115.5 341.4,118.4 341.8,118.9 342.1,118.2 342.5,118.6 342.8,118.8 343.2,117.1 343.5,116.9 343.9,116.6 344.2,118.6 344.6,118.2 344.9,118.3 345.3,118.3 345.6,117.3 346.0,113.8 346.3,112.5 346.7,111.0 347.0,111.7 347.4,108.2 347.7,107.9 348.1,106.9 348.4,110.5 348.8,109.7 349.1,109.9 349.5,112.5 349.8,115.6 350.2,116.4 350.5,118.5 350.9,116.1 351.2,119.5 351.6,118.1 351.9,116.4 352.3,117.5 352.6,117.5 353.0,119.5 353.3,118.0 353.7,118.6 354.0,119.4 354.4,117.3 354.7,120.0 355.1,119.5 355.4,119.7 355.8,117.0 356.1,119.5 356.5,119.7 356.8,119.2 357.2,118.5 357.5,117.4 357.9,119.6 358.2,119.8 358.6,119.3 358.9,115.9 359.3,116.0 359.6,115.9 360.0,114.4 360.3,112.3 360.7,110.2 361.0,104.2 361.4,101.0 361.7,101.2 362.1,98.9 362.4,103.7 362.8,103.1 363.1,107.5 363.5,107.8 363.8,112.6 364.2,112.4 364.5,116.6 364.9,116.3 365.2,116.4 365.6,117.7 365.9,119.5 366.3,118.0 366.6,118.9 367.0,119.7 367.3,121.0 367.7,119.3 368.0,117.4 368.4,119.8 368.7,118.0 369.1,120.5 369.4,121.0 369.8,119.2 370.1,119.2 370.5,117.9 370.8,121.6 371.2,120.6 371.5,118.6 371.9,120.7 372.2,121.4 372.6,117.9 372.9,119.9 373.3,119.4 373.6,120.1 374.0,120.1 374.3,119.2 374.7,121.3 375.0,118.7 375.4,120.3 375.7,120.3 376.1,119.2 376.4,120.3 376.8,117.5 377.1,117.5 377.5,119.7 377.8,116.4 378.2,119.3 378.5,116.4 378.9,117.2 379.2,114.1 379.6,113.2 379.9,114.5 380.3,113.8 380.6,111.2 381.0,111.5 381.3,114.2 381.7,114.6 382.0,113.1 382.4,116.6 382.7,115.4 383.1,117.3 383.4,118.9 383.8,117.8 384.1,119.7 384.5,120.3 384.8,118.9 385.2,118.3 385.5,118.8 385.9,119.4 386.2,116.4 386.6,119.7 386.9,118.2 387.3,117.5 387.6,117.2 388.0,115.4 388.3,114.3 388.7,109.0 389.0,111.2 389.4,110.8 389.7,108.2 390.1,109.0 390.4,110.1 390.8,114.5 391.1,112.8 391.5,114.0 391.8,114.4 392.2,117.3 392.5,116.0 392.9,116.9 393.2,116.3 393.6,118.8 393.9,118.0 394.3,116.4 394.6,117.1 395.0,117.3 395.3,114.8 395.7,113.7 396.0,112.6 396.4,111.9 396.7,114.7 397.1,112.3 397.4,111.8 397.8,112.1 398.1,115.3 398.5,113.0 398.8,115.7 399.2,114.8 399.5,118.6 399.9,116.4 400.2,118.4 400.6,119.2 400.9,118.1 401.3,117.6 401.6,118.8 402.0,117.4 402.3,119.5 402.7,119.7 403.0,116.7 403.4,116.9 403.7,116.0 404.1,117.6 404.4,118.6 404.8,119.5 405.1,117.0 405.5,116.9 405.8,116.6 406.2,115.9 406.5,118.5 406.9,119.7 407.2,116.9 407.6,119.0 407.9,117.2 408.3,118.3 408.6,118.4 409.0,118.9 409.3,119.2 409.7,118.7 410.0,117.7 410.4,119.1 410.7,116.8 411.1,116.0 411.4,118.5 411.8,120.0 412.1,118.7 412.5,119.8 412.8,116.0 413.2,117.1 413.5,118.9 413.9,118.8 414.2,117.4 414.6,117.2 414.9,116.2 415.3,118.5 415.6,117.5 416.0,116.3 416.3,118.9 416.7,117.7 417.0,116.6 417.4,118.9 417.7,118.8 418.1,117.7 418.4,118.9 418.8,116.0 419.1,117.9 419.5,117.9 419.8,118.2 420.2,118.6 420.5,117.2 420.9,117.0 421.2,115.7 421.6,115.2 421.9,115.8 422.3,114.9 422.6,115.0 423.0,111.0 423.3,110.0 423.7,108.7 424.0,108.4 424.4,110.9 424.7,110.4 425.1,109.2 425.4,111.5 425.8,111.9 426.1,112.1 426.5,113.7 426.8,116.5 427.2,115.6 427.5,113.9 427.9,112.8 428.2,115.3 428.6,114.0 428.9,112.2 429.3,110.5 429.6,108.8 430.0,107.0 430.3,109.1 430.7,107.1 431.0,107.2 431.4,107.7 431.7,108.0 432.1,110.6 432.4,111.0 432.8,113.3 433.1,115.0 433.5,116.7 433.8,117.7 434.2,115.0 434.5,116.9 434.9,117.0 435.2,119.5 435.6,119.0 435.9,116.8 436.3,116.4 436.6,117.4 437.0,117.2 437.3,115.6 437.7,116.9 438.0,118.2 438.4,116.9 438.7,116.0 439.1,112.2 439.4,111.5 439.8,112.3 440.1,110.1 440.5,105.7 440.8,104.6 441.2,102.2 441.5,104.2 441.9,106.1 442.2,105.9 442.6,107.1 442.9,109.1 443.3,110.6 443.6,112.1 444.0,115.4 444.3,114.7 444.7,114.7 445.0,117.5 445.4,118.6 445.7,117.2 446.1,118.4 446.4,116.6 446.8,118.0 447.1,117.9 447.5,120.1 447.8,117.4 448.2,117.0 448.5,119.4 448.9,119.5 449.2,116.8 449.6,117.2 449.9,116.7 450.3,120.1 450.6,120.1 451.0,119.7 451.3,118.8 451.7,119.8 452.0,116.2 452.4,116.5 452.7,116.3 453.1,116.8 453.4,116.7 453.8,119.1 454.1,116.6 454.5,115.6 454.8,115.3 455.2,115.2 455.5,115.8 455.9,116.1 456.2,116.0 456.6,116.6 456.9,115.6 457.3,117.9 457.6,116.6 458.0,117.2 458.3,117.8 458.7,117.9 459.0,115.9 459.4,117.9 459.7,116.1 460.1,117.8 460.4,117.1 460.8,119.7 461.1,117.0 461.5,119.0 461.8,119.7 462.2,118.1 462.5,120.0 462.9,119.6 463.2,117.5 463.6,115.9 463.9,118.3 464.3,119.3 464.6,118.1 465.0,117.2 465.3,119.3 465.7,118.2 466.0,119.4 466.4,115.7 466.7,118.0 467.1,118.1 467.4,116.2 467.8,116.9 468.1,116.4 468.5,115.1 468.8,118.6 469.2,115.9 469.5,118.0 469.9,114.4 470.2,115.2 470.6,115.1 470.9,114.8 471.3,118.1 471.6,116.8 472.0,116.7 472.3,116.1 472.7,115.8 473.0,117.8 473.4,115.8 473.7,117.0 474.1,117.5 474.4,117.3 474.8,117.2 475.1,115.6 475.5,119.5 475.8,119.3 476.2,116.1 476.5,119.9 476.9,117.6 477.2,118.2 477.6,119.2 477.9,116.1 478.3,117.5 478.6,119.0 479.0,120.0 479.3,119.0 479.7,118.2 480.0,119.7 480.4,118.2 480.7,118.1 481.1,119.6 481.4,119.1 481.8,118.4 482.1,119.0 482.5,120.1 482.8,118.0 483.2,117.8 483.5,119.0 483.9,120.0 484.2,119.7 484.6,120.3 484.9,120.5 485.3,118.8 485.6,120.1 486.0,119.6 486.3,119.4 486.7,118.4 487.0,117.8 487.4,120.6 487.7,117.6 488.1,117.4 488.4,117.6 488.8,118.4 489.1,116.8 489.5,117.7 489.8,116.9 490.2,119.4 490.5,116.5 490.9,117.9 491.2,118.2 491.6,116.1 491.9,116.0 492.3,117.2 492.6,116.6 493.0,116.1 493.3,114.0 493.7,116.3 494.0,115.0 494.4,113.6 494.7,115.3 495.1,115.8 495.4,114.6 495.8,116.1 496.1,116.3 496.5,115.7 496.8,117.3 497.2,115.2 497.5,118.1 497.9,116.6 498.2,117.9 498.6,116.7 498.9,119.2 499.3,118.3 499.6,120.5 500.0,120.2 500.3,119.8 500.7,117.7 501.0,117.2 501.4,117.5 501.7,116.9 502.1,119.4 502.4,117.6 502.8,120.8 503.1,120.8 503.5,120.4 503.8,119.9 504.2,116.3 504.5,117.5 504.9,116.1 505.2,118.3 505.6,113.2 505.9,115.8 506.3,113.4 506.6,111.7 507.0,110.8 507.3,108.1 507.7,108.0 508.0,111.1 508.4,111.6 508.7,111.5 509.1,115.6 509.4,117.5 509.8,118.7 510.1,118.5 510.5,118.0 510.8,117.4 511.2,119.7 511.5,119.9 511.9,120.6 512.2,118.6 512.6,118.9 512.9,119.8 513.3,119.9 513.6,120.9 514.0,121.0 514.3,120.4 514.7,120.1 515.0,122.6 515.4,121.3 515.7,121.5 516.1,120.6 516.4,122.6 516.8,119.1 517.1,119.0 517.5,121.1 517.8,122.2 518.2,123.1 518.5,120.5 518.9,119.8 519.2,122.3 519.6,119.6 519.9,122.7 520.3,119.7 520.6,121.3 521.0,123.1 521.3,120.1 521.7,121.6 522.0,121.4 522.4,120.8 522.7,121.4 523.1,120.2 523.4,121.9 523.8,122.2 524.1,119.9 524.5,122.7 524.8,122.0 525.2,120.9 525.5,121.5 525.9,122.5 526.2,120.7 526.6,120.4 526.9,123.1 527.3,122.8 527.6,119.7 528.0,121.4 528.3,122.2 528.7,119.9 529.0,123.4 529.4,121.3 529.7,121.7 530.1,120.7 530.4,121.0 530.8,120.0 531.1,121.9 531.5,122.5 531.8,120.7 532.2,122.0 532.5,119.9 532.9,120.9 533.2,120.5 533.6,120.5 533.9,120.3 534.3,121.4 534.6,122.2 535.0,122.9 535.3,121.9 535.7,120.0 536.0,122.6 536.4,119.8 536.7,122.9 537.1,123.2 537.4,123.0 537.8,120.5 538.1,120.3 538.5,120.7 538.8,123.0 539.2,122.8 539.5,123.1 539.9,120.4 540.2,123.3 540.6,121.9 540.9,121.5 541.3,121.4 541.6,119.9 542.0,120.8 542.3,121.7 542.7,120.0 543.0,121.0 543.4,122.3 543.7,122.2 544.1,120.3 544.4,121.9 544.8,121.5 545.1,123.0 545.5,121.4 545.8,122.0 546.2,123.0 546.5,121.8 546.9,121.4 547.2,120.8 547.6,119.5 547.9,119.4 548.3,118.8 548.6,121.9 549.0,118.9 549.3,120.9 549.7,117.9 550.0,120.3 550.4,117.9 550.7,120.6 551.1,118.5 551.4,119.8 551.8,120.3 552.1,117.6 552.5,118.2 552.8,119.8 553.2,118.4 553.5,117.7 553.9,118.8 554.2,118.9 554.6,118.4 554.9,121.3 555.3,119.8 555.6,121.8 556.0,118.5 556.3,118.9 556.7,120.6 557.0,120.7 557.4,121.4 557.7,119.4 558.1,119.2 558.4,122.4 558.8,119.9 559.1,122.6 559.5,122.6 559.8,122.1 560.2,119.8 560.5,123.3 560.9,123.2 561.2,122.2 561.6,123.6 561.9,122.1 562.3,121.0 562.6,119.9 563.0,122.2 563.3,121.1 563.7,121.6 564.0,123.1 564.4,119.8 564.7,121.5 565.1,123.8 565.4,122.9 565.8,120.3 566.1,120.2 566.5,122.1 566.8,121.7 567.2,120.6 567.5,123.3 567.9,121.2 568.2,121.3 568.6,122.1 568.9,119.9 569.3,121.6 569.6,122.9 570.0,121.5 570.3,120.0 570.7,122.1 571.0,123.9 571.4,122.9 571.7,121.2 572.1,121.3 572.4,123.2 572.8,123.8 573.1,122.0 573.5,122.0 573.8,122.6 574.2,122.4 574.5,121.9 574.9,121.3 575.2,121.9 575.6,120.8 575.9,120.2 576.3,123.4 576.6,120.4 577.0,120.1 577.3,120.1 577.7,120.1 578.0,122.4 578.4,122.6 578.7,119.8 579.1,120.6 579.4,120.9 579.8,123.6 580.1,123.1 580.5,122.5 580.8,120.3 581.2,121.3 581.5,122.5 581.9,119.9 582.2,121.9 582.6,121.1 582.9,121.8 583.3,123.1 583.6,124.0 584.0,120.5 584.3,121.3 584.7,122.2 585.0,122.0 585.4,123.2 585.7,120.4 586.1,120.9 586.4,121.7 586.8,121.0 587.1,122.9 587.5,122.2 587.8,121.3 588.2,121.9 588.5,121.3 588.9,121.5 589.2,122.8 589.6,119.8 589.9,122.0 590.3,123.3 590.6,119.9 591.0,120.6 591.3,120.5 591.7,121.6 592.0,121.6 592.4,120.3 592.7,119.8 593.1,120.4 593.4,120.5 593.8,121.2 594.1,119.9 594.5,120.5 594.8,119.9 595.2,122.6 595.5,122.3 595.9,120.1 596.2,121.8 596.6,122.4 596.9,119.5 597.3,121.9 597.6,118.6 598.0,119.2 598.3,120.9 598.7,120.7 599.0,120.3 599.4,120.6 599.7,118.2 600.1,118.2 600.4,117.9 600.8,121.9 601.1,119.3 601.5,120.0 601.8,119.7 602.2,118.5 602.5,121.0 602.9,120.0 603.2,121.6 603.6,120.6 603.9,119.3 604.3,119.5 604.6,122.7 605.0,121.7 605.3,122.1 605.7,120.9 606.0,119.4 606.4,119.2 606.7,122.4 607.1,121.1 607.4,123.4 607.8,120.9 608.1,119.7 608.5,122.6 608.8,123.6 609.2,123.4 609.5,120.2 609.9,123.7 610.2,122.2 610.6,120.9 610.9,120.5 611.3,120.3 611.6,120.6 612.0,119.9 612.3,123.1 612.7,122.0 613.0,123.2 613.4,121.9 613.7,120.5 614.1,122.4 614.4,119.8 614.8,123.6 615.1,119.9 615.5,120.7 615.8,123.1 616.2,120.9 616.5,122.1 616.9,122.6 617.2,121.9 617.6,121.5 617.9,122.9 618.3,122.8 618.6,123.6 619.0,123.6 619.3,121.3 619.7,122.0 620.0,122.6 620.4,122.5 620.7,120.7 621.1,123.1 621.4,122.4 621.8,123.2 622.1,120.9 622.5,119.9 622.8,121.8 623.2,121.7 623.5,124.0 623.9,121.1 624.2,121.1 624.6,120.4 624.9,120.3 625.3,123.0 625.6,120.4 626.0,120.6 626.3,120.1 626.7,120.1 627.0,120.9 627.4,123.1 627.7,120.2 628.1,120.3 628.4,122.2 628.8,122.9 629.1,122.4 629.5,123.5 629.8,123.4 630.2,120.7 630.5,119.9 630.9,120.6 631.2,120.7 631.6,120.3 631.9,120.9 632.3,124.0 632.6,122.4 633.0,123.5 633.3,120.1 633.7,123.7 634.0,122.0 634.4,121.8 634.7,120.5 635.1,122.2 635.4,122.6 635.8,123.0 636.1,122.1 636.5,122.8 636.8,122.0 637.2,122.5 637.5,121.4 637.9,122.6 638.2,123.4 638.6,119.9 638.9,123.5 639.3,121.4 639.6,121.4 640.0,121.9 640.3,122.2 640.7,123.1 641.0,120.4 641.4,123.8 641.7,120.8 642.1,120.9 642.4,122.1 642.8,123.2 643.1,120.1 643.5,123.6 643.8,120.6 644.2,123.9 644.5,120.4 644.9,123.3 645.2,122.6 645.6,122.1 645.9,121.3 646.3,119.9 646.6,123.3 647.0,122.4 647.3,123.9 647.7,120.3 648.0,119.8 648.4,120.8 648.7,123.0 649.1,120.1 649.4,123.4 649.8,120.3 650.1,122.5 650.5,122.9 650.8,123.6 651.2,120.0 651.5,123.1 651.9,122.2 652.2,123.7 652.6,121.1 652.9,123.0 653.3,123.8 653.6,123.4 654.0,123.8 654.3,120.0 654.7,123.8 655.0,123.6 655.4,123.7 655.7,120.0 656.1,120.4 656.4,123.5 656.8,122.3 657.1,122.4 657.5,122.3 657.8,122.6 658.2,122.9 658.5,123.7 658.9,121.6 659.2,121.6 659.6,122.7 659.9,120.9 660.3,119.9 660.6,120.4 661.0,123.4 661.3,122.5 661.7,121.0 662.0,120.8 662.4,121.7 662.7,123.6 663.1,120.1 663.4,120.1 663.8,122.0 664.1,120.2 664.5,123.4 664.8,123.1 665.2,119.7 665.5,123.1" fill="none" stroke="#ff10f0" stroke-width="1.85" stroke-linejoin="round"/>
<g transform="translate(179.40,96.30) scale(1.0)" fill="#7f2cf0"><circle cx="0" cy="-2.9" r="2.5"/><circle cx="-2.9" cy="1.1" r="2.5"/><circle cx="2.9" cy="1.1" r="2.5"/><path d="M-0.7,-1 L0.7,-1 L0.9,4.2 L1.8,5.6 L-1.8,5.6 L-0.9,4.2 Z"/></g><path transform="translate(183.20,86.00) scale(1.0)" fill="#1fa9e1" d="M0,5.2 C-1.5,3.2 -5.2,0.8 -5.2,-1.9 C-5.2,-4.1 -3.6,-5.1 -2.4,-5.1 C-1.1,-5.1 -0.3,-4.2 0,-3.2 C0.3,-4.2 1.1,-5.1 2.4,-5.1 C3.6,-5.1 5.2,-4.1 5.2,-1.9 C5.2,0.8 1.5,3.2 0,5.2 Z"/><g transform="translate(194.90,98.40) scale(1.0)" fill="#7f2cf0"><circle cx="0" cy="-2.9" r="2.5"/><circle cx="-2.9" cy="1.1" r="2.5"/><circle cx="2.9" cy="1.1" r="2.5"/><path d="M-0.7,-1 L0.7,-1 L0.9,4.2 L1.8,5.6 L-1.8,5.6 L-0.9,4.2 Z"/></g><path transform="translate(230.10,72.20) scale(1.0)" fill="#1fa9e1" d="M0,5.2 C-1.5,3.2 -5.2,0.8 -5.2,-1.9 C-5.2,-4.1 -3.6,-5.1 -2.4,-5.1 C-1.1,-5.1 -0.3,-4.2 0,-3.2 C0.3,-4.2 1.1,-5.1 2.4,-5.1 C3.6,-5.1 5.2,-4.1 5.2,-1.9 C5.2,0.8 1.5,3.2 0,5.2 Z"/><circle cx="238.30" cy="83.70" r="3.30" fill="#3d9b6d"/><g transform="translate(243.80,40.50) scale(1.0)" fill="#7f2cf0"><circle cx="0" cy="-2.9" r="2.5"/><circle cx="-2.9" cy="1.1" r="2.5"/><circle cx="2.9" cy="1.1" r="2.5"/><path d="M-0.7,-1 L0.7,-1 L0.9,4.2 L1.8,5.6 L-1.8,5.6 L-0.9,4.2 Z"/></g><path transform="translate(265.40,66.10) scale(1.0)" fill="#b01e3c" d="M0,-5.4 C-1.5,-3.2 -5.3,-1.2 -5.3,1.6 C-5.3,3.4 -3.9,4.3 -2.7,4.3 C-1.7,4.3 -1.0,3.8 -0.6,3.1 L-1.6,5.4 L1.6,5.4 L0.6,3.1 C1.0,3.8 1.7,4.3 2.7,4.3 C3.9,4.3 5.3,3.4 5.3,1.6 C5.3,-1.2 1.5,-3.2 0,-5.4 Z"/><path transform="translate(272.40,75.10) scale(1.0)" fill="#b01e3c" d="M0,-5.4 C-1.5,-3.2 -5.3,-1.2 -5.3,1.6 C-5.3,3.4 -3.9,4.3 -2.7,4.3 C-1.7,4.3 -1.0,3.8 -0.6,3.1 L-1.6,5.4 L1.6,5.4 L0.6,3.1 C1.0,3.8 1.7,4.3 2.7,4.3 C3.9,4.3 5.3,3.4 5.3,1.6 C5.3,-1.2 1.5,-3.2 0,-5.4 Z"/><path transform="translate(272.40,62.30) scale(1.0)" fill="#1fa9e1" d="M0,5.2 C-1.5,3.2 -5.2,0.8 -5.2,-1.9 C-5.2,-4.1 -3.6,-5.1 -2.4,-5.1 C-1.1,-5.1 -0.3,-4.2 0,-3.2 C0.3,-4.2 1.1,-5.1 2.4,-5.1 C3.6,-5.1 5.2,-4.1 5.2,-1.9 C5.2,0.8 1.5,3.2 0,5.2 Z"/><circle cx="285.30" cy="100.60" r="3.30" fill="#3d9b6d"/><g transform="translate(291.70,79.80) scale(1.0)" fill="#7f2cf0"><circle cx="0" cy="-2.9" r="2.5"/><circle cx="-2.9" cy="1.1" r="2.5"/><circle cx="2.9" cy="1.1" r="2.5"/><path d="M-0.7,-1 L0.7,-1 L0.9,4.2 L1.8,5.6 L-1.8,5.6 L-0.9,4.2 Z"/></g><circle cx="302.80" cy="93.40" r="3.30" fill="#3d9b6d"/><circle cx="322.70" cy="91.80" r="3.30" fill="#3d9b6d"/><g transform="translate(348.00,100.40) scale(1.0)" fill="#7f2cf0"><circle cx="0" cy="-2.9" r="2.5"/><circle cx="-2.9" cy="1.1" r="2.5"/><circle cx="2.9" cy="1.1" r="2.5"/><path d="M-0.7,-1 L0.7,-1 L0.9,4.2 L1.8,5.6 L-1.8,5.6 L-0.9,4.2 Z"/></g><path d="M348.00,82.30 L352.21,87.20 L348.00,92.10 L343.79,87.20 Z" fill="#ffa305" stroke="#ffa305" stroke-width="0.6" stroke-linejoin="round"/><circle cx="348.00" cy="77.20" r="3.30" fill="#3d9b6d"/><path transform="translate(348.00,66.90) scale(1.0)" fill="#1fa9e1" d="M0,5.2 C-1.5,3.2 -5.2,0.8 -5.2,-1.9 C-5.2,-4.1 -3.6,-5.1 -2.4,-5.1 C-1.1,-5.1 -0.3,-4.2 0,-3.2 C0.3,-4.2 1.1,-5.1 2.4,-5.1 C3.6,-5.1 5.2,-4.1 5.2,-1.9 C5.2,0.8 1.5,3.2 0,5.2 Z"/><path transform="translate(362.00,94.40) scale(1.0)" fill="#b01e3c" d="M0,-5.4 C-1.5,-3.2 -5.3,-1.2 -5.3,1.6 C-5.3,3.4 -3.9,4.3 -2.7,4.3 C-1.7,4.3 -1.0,3.8 -0.6,3.1 L-1.6,5.4 L1.6,5.4 L0.6,3.1 C1.0,3.8 1.7,4.3 2.7,4.3 C3.9,4.3 5.3,3.4 5.3,1.6 C5.3,-1.2 1.5,-3.2 0,-5.4 Z"/><g transform="translate(380.70,105.60) scale(1.0)" fill="#7f2cf0"><circle cx="0" cy="-2.9" r="2.5"/><circle cx="-2.9" cy="1.1" r="2.5"/><circle cx="2.9" cy="1.1" r="2.5"/><path d="M-0.7,-1 L0.7,-1 L0.9,4.2 L1.8,5.6 L-1.8,5.6 L-0.9,4.2 Z"/></g><g transform="translate(389.50,102.70) scale(1.0)" fill="#7f2cf0"><circle cx="0" cy="-2.9" r="2.5"/><circle cx="-2.9" cy="1.1" r="2.5"/><circle cx="2.9" cy="1.1" r="2.5"/><path d="M-0.7,-1 L0.7,-1 L0.9,4.2 L1.8,5.6 L-1.8,5.6 L-0.9,4.2 Z"/></g><circle cx="397.10" cy="106.40" r="3.30" fill="#3d9b6d"/><path d="M430.60,95.80 L434.81,100.70 L430.60,105.60 L426.39,100.70 Z" fill="#ffa305" stroke="#ffa305" stroke-width="0.6" stroke-linejoin="round"/><path transform="translate(430.60,89.30) scale(1.0)" fill="#1fa9e1" d="M0,5.2 C-1.5,3.2 -5.2,0.8 -5.2,-1.9 C-5.2,-4.1 -3.6,-5.1 -2.4,-5.1 C-1.1,-5.1 -0.3,-4.2 0,-3.2 C0.3,-4.2 1.1,-5.1 2.4,-5.1 C3.6,-5.1 5.2,-4.1 5.2,-1.9 C5.2,0.8 1.5,3.2 0,5.2 Z"/><circle cx="507.60" cy="105.40" r="3.30" fill="#3d9b6d"/>
<polygon points="101.3,173.7 101.6,171.9 102.0,172.5 102.3,167.5 102.7,166.8 103.0,162.9 103.4,158.9 103.7,159.9 104.1,158.5 104.4,162.8 104.8,164.4 105.1,167.7 105.5,171.9 105.8,175.9 106.2,174.1 106.5,175.5 106.9,178.0 107.2,179.8 107.6,178.4 107.9,177.8 108.3,180.6 108.6,176.5 109.0,180.4 109.3,177.8 109.7,177.2 110.0,177.1 110.4,177.9 110.7,179.9 111.1,176.5 111.4,177.4 111.8,176.3 112.1,173.0 112.5,171.2 112.8,166.1 113.2,163.5 113.5,162.6 113.9,164.9 114.2,165.7 114.6,168.0 114.9,172.2 115.3,174.2 115.6,175.6 116.0,179.3 116.3,179.8 116.7,178.3 117.0,180.2 117.4,180.3 117.7,182.1 118.1,181.5 118.4,179.6 118.8,182.9 119.1,179.0 119.5,180.5 119.8,182.1 120.2,179.4 120.5,181.0 120.9,178.9 121.2,181.8 121.6,182.3 121.9,181.4 122.3,182.8 122.6,180.2 123.0,181.9 123.3,181.3 123.7,181.0 124.0,180.0 124.4,181.0 124.7,180.4 125.1,176.9 125.4,176.5 125.8,172.8 126.1,175.7 126.5,176.3 126.8,179.2 127.2,179.8 127.5,178.5 127.9,179.8 128.2,181.6 128.6,178.9 128.9,181.1 129.3,179.9 129.6,179.7 130.0,179.5 130.3,182.7 130.7,179.8 131.0,180.4 131.4,181.0 131.7,183.2 132.1,179.5 132.4,181.1 132.8,181.5 133.1,183.0 133.5,182.5 133.8,182.6 134.2,179.6 134.5,179.8 134.9,178.9 135.2,180.1 135.6,178.5 135.9,171.7 136.3,167.3 136.6,161.5 137.0,154.4 137.3,148.4 137.7,143.4 138.0,140.3 138.4,142.0 138.7,150.1 139.1,157.3 139.4,165.1 139.8,172.6 140.1,175.5 140.5,177.5 140.8,179.7 141.2,181.0 141.5,178.7 141.9,183.0 142.2,182.7 142.6,183.4 142.9,183.2 143.3,181.4 143.6,181.6 144.0,180.3 144.3,182.8 144.7,180.2 145.0,180.3 145.4,181.0 145.7,180.8 146.1,181.7 146.4,180.4 146.8,180.2 147.1,180.9 147.5,180.7 147.8,181.9 148.2,180.3 148.5,184.3 148.9,183.1 149.2,180.9 149.6,181.4 149.9,181.8 150.3,181.9 150.6,180.7 151.0,184.0 151.3,184.6 151.7,182.1 152.0,182.1 152.4,180.2 152.7,180.0 153.1,180.9 153.4,180.1 153.8,182.0 154.1,178.1 154.5,176.3 154.8,179.1 155.2,175.3 155.5,171.6 155.9,171.4 156.2,167.3 156.6,168.4 156.9,170.1 157.3,170.2 157.6,170.7 158.0,170.6 158.3,173.0 158.7,174.0 159.0,178.4 159.4,178.6 159.7,180.7 160.1,179.4 160.4,179.3 160.8,182.3 161.1,183.1 161.5,182.4 161.8,181.9 162.2,181.3 162.5,179.7 162.9,175.0 163.2,172.5 163.6,165.9 163.9,156.8 164.3,148.3 164.6,142.2 165.0,139.1 165.3,144.1 165.7,152.6 166.0,158.8 166.4,168.7 166.7,174.8 167.1,178.5 167.4,178.1 167.8,178.7 168.1,179.4 168.5,179.7 168.8,179.9 169.2,182.0 169.5,183.2 169.9,182.9 170.2,181.1 170.6,181.5 170.9,181.4 171.3,176.9 171.6,177.6 172.0,175.6 172.3,170.9 172.7,165.6 173.0,158.8 173.4,152.8 173.7,153.4 174.1,152.4 174.4,158.5 174.8,164.5 175.1,167.0 175.5,171.3 175.8,176.8 176.2,177.6 176.5,175.8 176.9,175.2 177.2,173.5 177.6,172.6 177.9,164.0 178.3,147.6 178.6,132.7 179.0,114.1 179.3,99.6 179.7,99.4 180.0,115.0 180.4,132.8 180.7,149.9 181.1,167.1 181.4,173.5 181.8,177.2 182.1,181.3 182.5,180.3 182.8,183.0 183.2,183.3 183.5,180.9 183.9,181.4 184.2,181.8 184.6,181.8 184.9,183.6 185.3,182.2 185.6,183.1 186.0,181.8 186.3,185.5 186.7,183.0 187.0,183.6 187.4,184.2 187.7,185.8 188.1,183.6 188.4,185.9 188.8,184.0 189.1,184.2 189.5,184.2 189.8,181.9 190.2,183.8 190.5,182.7 190.9,181.8 191.2,185.5 191.6,182.5 191.9,183.9 192.3,185.0 192.6,184.2 193.0,183.1 193.3,184.0 193.7,184.1 194.0,185.1 194.4,181.9 194.7,183.9 195.1,182.4 195.4,182.5 195.8,184.6 196.1,183.3 196.5,183.4 196.8,184.2 197.2,184.7 197.5,182.3 197.9,182.8 198.2,181.9 198.6,181.4 198.9,181.4 199.3,179.0 199.6,177.4 200.0,174.1 200.3,171.9 200.7,165.0 201.0,158.6 201.4,151.0 201.7,140.2 202.1,135.9 202.4,135.6 202.8,137.1 203.1,138.8 203.5,144.5 203.8,151.0 204.2,152.6 204.5,154.6 204.9,153.4 205.2,154.8 205.6,154.5 205.9,155.8 206.3,155.0 206.6,161.5 207.0,165.6 207.3,167.1 207.7,173.5 208.0,175.7 208.4,172.7 208.7,174.8 209.1,169.3 209.4,165.0 209.8,161.1 210.1,153.8 210.5,145.1 210.8,143.7 211.2,145.8 211.5,150.2 211.9,156.4 212.2,163.7 212.6,171.4 212.9,172.5 213.3,177.9 213.6,179.2 214.0,178.4 214.3,180.6 214.7,182.4 215.0,182.1 215.4,180.3 215.7,184.7 216.1,183.9 216.4,184.8 216.8,180.9 217.1,181.7 217.5,180.7 217.8,184.2 218.2,181.9 218.5,181.2 218.9,182.6 219.2,184.8 219.6,184.4 219.9,181.8 220.3,181.3 220.6,184.8 221.0,183.2 221.3,183.8 221.7,180.8 222.0,180.5 222.4,183.0 222.7,181.1 223.1,178.5 223.4,180.9 223.8,177.5 224.1,175.9 224.5,170.3 224.8,172.2 225.2,168.2 225.5,173.0 225.9,173.2 226.2,175.1 226.6,178.2 226.9,181.7 227.3,179.8 227.6,179.9 228.0,182.0 228.3,180.5 228.7,179.4 229.0,178.4 229.4,175.9 229.7,173.5 230.1,169.5 230.4,164.0 230.8,160.0 231.1,152.5 231.5,150.6 231.8,150.1 232.2,155.1 232.5,159.5 232.9,166.6 233.2,170.8 233.6,178.1 233.9,180.1 234.3,180.2 234.6,182.7 235.0,185.4 235.3,182.1 235.7,185.6 236.0,184.1 236.4,184.5 236.7,186.2 237.1,184.3 237.4,184.9 237.8,185.9 238.1,187.3 238.5,184.4 238.8,186.7 239.2,186.2 239.5,185.8 239.9,184.8 240.2,184.5 240.6,183.1 240.9,183.4 241.3,183.0 241.6,185.8 242.0,183.2 242.3,182.0 242.7,180.5 243.0,182.3 243.4,180.1 243.7,176.3 244.1,171.1 244.4,167.5 244.8,165.0 245.1,164.5 245.5,163.9 245.8,167.7 246.2,170.3 246.5,177.0 246.9,180.3 247.2,180.9 247.6,181.5 247.9,186.2 248.3,184.1 248.6,184.9 249.0,183.7 249.3,185.7 249.7,186.3 250.0,186.6 250.4,185.3 250.7,186.7 251.1,184.5 251.4,185.7 251.8,184.9 252.1,186.4 252.5,184.8 252.8,184.7 253.2,186.0 253.5,185.7 253.9,187.3 254.2,187.1 254.6,188.1 254.9,187.7 255.3,187.9 255.6,188.7 256.0,186.4 256.3,186.1 256.7,189.1 257.0,185.3 257.4,187.9 257.7,187.5 258.1,184.8 258.4,188.4 258.8,188.6 259.1,187.4 259.5,187.8 259.8,188.2 260.2,185.0 260.5,186.7 260.9,186.6 261.2,188.0 261.6,187.8 261.9,187.8 262.3,186.6 262.6,187.8 263.0,186.5 263.3,186.2 263.7,183.3 264.0,181.3 264.4,180.2 264.7,179.0 265.1,175.0 265.4,175.0 265.8,170.3 266.1,167.8 266.5,166.3 266.8,167.0 267.2,168.2 267.5,169.1 267.9,176.1 268.2,179.0 268.6,180.4 268.9,182.5 269.3,184.3 269.6,182.4 270.0,185.9 270.3,183.9 270.7,183.1 271.0,183.9 271.4,185.7 271.7,182.9 272.1,184.9 272.4,185.3 272.8,182.4 273.1,181.0 273.5,180.6 273.8,180.6 274.2,180.3 274.5,179.0 274.9,178.9 275.2,176.4 275.6,177.1 275.9,178.3 276.3,181.4 276.6,180.3 277.0,182.4 277.3,180.7 277.7,181.6 278.0,183.3 278.4,185.6 278.7,186.1 279.1,186.4 279.4,184.9 279.8,186.1 280.1,186.0 280.5,186.1 280.8,184.6 281.2,188.2 281.5,185.1 281.9,188.7 282.2,188.5 282.6,184.3 282.9,186.4 283.3,188.1 283.6,188.8 284.0,186.4 284.3,185.6 284.7,185.3 285.0,188.7 285.4,185.4 285.7,187.1 286.1,185.0 286.4,186.8 286.8,188.7 287.1,185.0 287.5,188.1 287.8,186.6 288.2,188.3 288.5,187.4 288.9,185.1 289.2,187.9 289.6,185.7 289.9,183.0 290.3,182.1 290.6,183.1 291.0,181.2 291.3,178.3 291.7,175.1 292.0,173.5 292.4,171.4 292.7,172.9 293.1,169.6 293.4,174.8 293.8,177.6 294.1,176.9 294.5,182.9 294.9,183.8 295.2,186.1 295.6,184.3 295.9,185.3 296.3,185.8 296.6,188.8 297.0,187.1 297.3,186.2 297.7,186.6 298.0,186.0 298.4,185.0 298.7,185.3 299.1,188.7 299.4,186.2 299.8,189.2 300.1,186.1 300.5,186.2 300.8,187.3 301.2,185.9 301.5,186.7 301.9,189.4 302.2,189.1 302.6,188.7 302.9,187.9 303.3,189.2 303.6,189.3 304.0,187.5 304.3,188.2 304.7,185.1 305.0,188.2 305.4,186.8 305.7,188.1 306.1,187.5 306.4,185.6 306.8,184.2 307.1,187.8 307.5,183.3 307.8,183.8 308.2,181.6 308.5,179.3 308.9,178.8 309.2,177.1 309.6,171.0 309.9,170.5 310.3,167.6 310.6,168.9 311.0,169.6 311.3,171.1 311.7,173.9 312.0,176.9 312.4,182.6 312.7,182.7 313.1,183.0 313.4,187.3 313.8,188.4 314.1,186.4 314.5,185.3 314.8,185.8 315.2,185.5 315.5,186.7 315.9,185.7 316.2,186.4 316.6,186.6 316.9,188.1 317.3,189.6 317.6,189.0 318.0,187.5 318.3,187.5 318.7,188.1 319.0,187.4 319.4,187.3 319.7,186.0 320.1,187.0 320.4,190.2 320.8,186.3 321.1,188.1 321.5,188.6 321.8,189.7 322.2,186.7 322.5,187.0 322.9,186.8 323.2,187.5 323.6,187.7 323.9,190.0 324.3,189.5 324.6,189.5 325.0,185.5 325.3,185.5 325.7,188.4 326.0,189.0 326.4,186.6 326.7,186.3 327.1,182.4 327.4,182.5 327.8,182.8 328.1,179.9 328.5,177.7 328.8,176.6 329.2,173.2 329.5,173.9 329.9,176.4 330.2,180.6 330.6,183.5 330.9,186.5 331.3,186.7 331.6,187.1 332.0,188.2 332.3,187.0 332.7,187.6 333.0,185.3 333.4,188.8 333.7,186.2 334.1,189.4 334.4,188.0 334.8,186.3 335.1,185.2 335.5,185.2 335.8,186.1 336.2,185.1 336.5,180.6 336.9,178.1 337.2,177.7 337.6,175.8 337.9,173.7 338.3,173.3 338.6,176.7 339.0,176.4 339.3,180.2 339.7,183.0 340.0,186.9 340.4,186.6 340.7,188.4 341.1,186.9 341.4,186.0 341.8,186.2 342.1,189.6 342.5,188.4 342.8,186.6 343.2,185.2 343.5,187.2 343.9,187.8 344.2,186.2 344.6,184.9 344.9,185.9 345.3,185.9 345.6,181.3 346.0,179.0 346.3,179.1 346.7,178.8 347.0,180.1 347.4,178.7 347.7,182.7 348.1,183.9 348.4,184.2 348.8,183.9 349.1,188.3 349.5,185.9 349.8,188.6 350.2,186.1 350.5,186.2 350.9,188.8 351.2,186.7 351.6,189.7 351.9,187.7 352.3,186.2 352.6,186.4 353.0,187.2 353.3,188.3 353.7,189.4 354.0,185.6 354.4,186.5 354.7,185.4 355.1,188.5 355.4,184.2 355.8,183.3 356.1,182.8 356.5,183.7 356.8,185.5 357.2,184.9 357.5,183.8 357.9,184.8 358.2,184.5 358.6,181.9 358.9,181.6 359.3,185.6 359.6,185.3 360.0,182.6 360.3,186.0 360.7,185.1 361.0,185.5 361.4,185.6 361.7,185.0 362.1,184.4 362.4,185.7 362.8,186.1 363.1,188.8 363.5,184.9 363.8,188.7 364.2,185.1 364.5,185.7 364.9,187.6 365.2,187.4 365.6,185.4 365.9,183.5 366.3,185.2 366.6,184.4 367.0,186.7 367.3,183.1 367.7,183.5 368.0,185.7 368.4,181.4 368.7,182.8 369.1,184.4 369.4,183.9 369.8,180.3 370.1,180.0 370.5,179.8 370.8,183.6 371.2,180.4 371.5,182.5 371.9,183.1 372.2,180.4 372.6,180.1 372.9,183.2 373.3,181.6 373.6,180.0 374.0,182.1 374.3,180.2 374.7,180.0 375.0,178.6 375.4,181.9 375.7,182.4 376.1,180.7 376.4,181.7 376.8,177.0 377.1,177.4 377.5,178.0 377.8,179.6 378.2,179.0 378.5,175.9 378.9,174.8 379.2,175.4 379.6,175.7 379.9,177.8 380.3,174.7 380.6,178.1 381.0,178.4 381.3,179.4 381.7,179.6 382.0,179.2 382.4,178.0 382.7,177.8 383.1,177.4 383.4,178.4 383.8,174.0 384.1,173.0 384.5,174.0 384.8,170.3 385.2,168.5 385.5,168.2 385.9,171.2 386.2,171.5 386.6,176.4 386.9,178.0 387.3,180.5 387.6,179.0 388.0,179.8 388.3,181.2 388.7,184.1 389.0,185.8 389.4,185.2 389.7,184.6 390.1,185.7 390.4,186.8 390.8,187.1 391.1,187.5 391.5,187.9 391.8,186.9 392.2,184.3 392.5,187.3 392.9,184.3 393.2,184.9 393.6,183.2 393.9,183.7 394.3,179.8 394.6,178.4 395.0,176.6 395.3,174.3 395.7,176.0 396.0,173.4 396.4,171.7 396.7,172.4 397.1,176.2 397.4,175.5 397.8,176.1 398.1,180.6 398.5,181.6 398.8,184.7 399.2,181.8 399.5,184.5 399.9,186.9 400.2,187.5 400.6,188.3 400.9,184.5 401.3,185.9 401.6,185.2 402.0,185.6 402.3,189.3 402.7,187.6 403.0,189.2 403.4,186.7 403.7,189.0 404.1,187.1 404.4,186.3 404.8,188.7 405.1,189.5 405.5,185.6 405.8,187.9 406.2,188.0 406.5,186.1 406.9,186.8 407.2,185.8 407.6,186.0 407.9,186.2 408.3,187.7 408.6,187.9 409.0,185.7 409.3,184.7 409.7,185.9 410.0,187.2 410.4,184.6 410.7,184.8 411.1,183.8 411.4,186.0 411.8,184.4 412.1,181.6 412.5,181.4 412.8,182.4 413.2,183.0 413.5,183.5 413.9,181.2 414.2,182.0 414.6,184.9 414.9,184.2 415.3,184.1 415.6,184.7 416.0,188.1 416.3,185.5 416.7,187.0 417.0,186.3 417.4,186.8 417.7,189.0 418.1,189.7 418.4,186.8 418.8,186.1 419.1,188.6 419.5,186.2 419.8,185.3 420.2,189.5 420.5,187.3 420.9,189.1 421.2,187.2 421.6,189.4 421.9,187.5 422.3,186.1 422.6,185.5 423.0,187.9 423.3,188.3 423.7,189.6 424.0,185.8 424.4,188.3 424.7,187.1 425.1,187.7 425.4,186.1 425.8,186.7 426.1,187.8 426.5,189.6 426.8,185.9 427.2,187.6 427.5,189.0 427.9,189.8 428.2,186.2 428.6,185.8 428.9,189.5 429.3,189.6 429.6,187.3 430.0,185.2 430.3,189.0 430.7,186.2 431.0,188.2 431.4,186.4 431.7,186.6 432.1,182.8 432.4,184.8 432.8,181.4 433.1,181.5 433.5,183.0 433.8,182.8 434.2,180.2 434.5,181.0 434.9,182.6 435.2,184.1 435.6,184.3 435.9,183.8 436.3,184.9 436.6,187.6 437.0,188.7 437.3,185.0 437.7,187.6 438.0,188.6 438.4,185.3 438.7,189.0 439.1,185.8 439.4,188.0 439.8,187.8 440.1,188.2 440.5,186.7 440.8,187.3 441.2,188.0 441.5,187.3 441.9,188.4 442.2,187.5 442.6,187.5 442.9,185.6 443.3,188.3 443.6,187.7 444.0,186.5 444.3,189.0 444.7,189.0 445.0,187.6 445.4,186.2 445.7,187.6 446.1,185.8 446.4,185.9 446.8,187.2 447.1,185.6 447.5,187.1 447.8,187.3 448.2,185.1 448.5,187.7 448.9,184.9 449.2,187.8 449.6,187.8 449.9,186.3 450.3,184.0 450.6,185.8 451.0,185.0 451.3,187.3 451.7,183.3 452.0,186.3 452.4,186.7 452.7,185.2 453.1,185.3 453.4,182.2 453.8,185.6 454.1,183.2 454.5,185.2 454.8,185.0 455.2,181.5 455.5,184.5 455.9,185.2 456.2,181.4 456.6,182.9 456.9,185.1 457.3,182.6 457.6,186.3 458.0,183.7 458.3,186.6 458.7,183.8 459.0,185.8 459.4,188.0 459.7,185.0 460.1,185.5 460.4,186.9 460.8,186.3 461.1,185.2 461.5,186.1 461.8,186.2 462.2,189.9 462.5,188.8 462.9,189.9 463.2,186.7 463.6,189.6 463.9,186.5 464.3,188.4 464.6,188.8 465.0,187.4 465.3,189.5 465.7,187.7 466.0,187.2 466.4,187.8 466.7,183.2 467.1,186.0 467.4,182.9 467.8,180.4 468.1,180.9 468.5,177.5 468.8,180.5 469.2,179.0 469.5,179.0 469.9,182.3 470.2,182.3 470.6,182.6 470.9,186.5 471.3,184.5 471.6,188.9 472.0,186.9 472.3,189.2 472.7,191.1 473.0,189.5 473.4,190.1 473.7,188.6 474.1,187.2 474.4,187.5 474.8,188.1 475.1,190.3 475.5,189.5 475.8,189.9 476.2,191.7 476.5,188.2 476.9,188.7 477.2,190.7 477.6,187.8 477.9,187.8 478.3,189.4 478.6,188.3 479.0,189.5 479.3,188.9 479.7,190.6 480.0,190.7 480.4,188.9 480.7,190.9 481.1,190.2 481.4,188.6 481.8,192.3 482.1,189.1 482.5,188.7 482.8,188.5 483.2,191.0 483.5,192.1 483.9,191.7 484.2,189.9 484.6,189.3 484.9,188.1 485.3,191.1 485.6,190.7 486.0,189.7 486.3,191.1 486.7,190.2 487.0,192.4 487.4,191.5 487.7,189.3 488.1,192.3 488.4,188.3 488.8,190.6 489.1,190.0 489.5,189.2 489.8,188.4 490.2,191.7 490.5,188.1 490.9,190.6 491.2,192.3 491.6,188.6 491.9,188.8 492.3,190.6 492.6,190.1 493.0,190.6 493.3,191.3 493.7,188.2 494.0,188.6 494.4,188.4 494.7,187.1 495.1,190.8 495.4,190.1 495.8,189.7 496.1,186.3 496.5,190.0 496.8,189.5 497.2,188.2 497.5,189.5 497.9,188.3 498.2,187.4 498.6,187.0 498.9,187.8 499.3,187.1 499.6,188.6 500.0,190.7 500.3,190.6 500.7,191.5 501.0,191.0 501.4,189.1 501.7,190.5 502.1,190.0 502.4,191.7 502.8,190.6 503.1,189.4 503.5,191.2 503.8,192.7 504.2,189.3 504.5,192.3 504.9,188.4 505.2,189.5 505.6,189.4 505.9,191.7 506.3,192.6 506.6,191.7 507.0,189.8 507.3,192.3 507.7,189.7 508.0,189.3 508.4,192.3 508.7,190.9 509.1,191.1 509.4,190.9 509.8,192.3 510.1,189.8 510.5,191.4 510.8,190.6 511.2,191.1 511.5,189.0 511.9,190.1 512.2,189.2 512.6,187.8 512.9,187.2 513.3,188.9 513.6,186.2 514.0,189.9 514.3,186.3 514.7,185.7 515.0,186.1 515.4,189.9 515.7,187.2 516.1,186.4 516.4,186.0 516.8,186.3 517.1,189.5 517.5,189.4 517.8,189.9 518.2,190.2 518.5,187.3 518.9,189.9 519.2,189.1 519.6,191.3 519.9,191.4 520.3,191.9 520.6,188.1 521.0,191.9 521.3,192.2 521.7,192.3 522.0,188.5 522.4,188.9 522.7,188.5 523.1,188.1 523.4,191.8 523.8,191.5 524.1,190.6 524.5,191.4 524.8,190.5 525.2,188.8 525.5,187.8 525.9,187.7 526.2,190.6 526.6,188.0 526.9,188.4 527.3,188.8 527.6,186.8 528.0,187.8 528.3,187.9 528.7,189.9 529.0,188.3 529.4,188.1 529.7,191.1 530.1,189.0 530.4,190.7 530.8,189.7 531.1,187.1 531.5,189.0 531.8,189.2 532.2,190.9 532.5,189.1 532.9,190.8 533.2,190.2 533.6,188.8 533.9,191.9 534.3,188.5 534.6,191.9 535.0,189.0 535.3,188.3 535.7,189.3 536.0,192.0 536.4,193.0 536.7,188.6 537.1,190.9 537.4,190.9 537.8,192.4 538.1,189.6 538.5,191.0 538.8,190.4 539.2,192.6 539.5,190.0 539.9,193.2 540.2,190.1 540.6,189.8 540.9,192.1 541.3,191.2 541.6,189.4 542.0,191.8 542.3,189.3 542.7,192.5 543.0,192.1 543.4,192.5 543.7,191.8 544.1,190.6 544.4,190.8 544.8,190.7 545.1,193.0 545.5,189.3 545.8,193.0 546.2,189.1 546.5,189.9 546.9,190.1 547.2,193.1 547.6,191.2 547.9,190.7 548.3,193.0 548.6,190.0 549.0,191.0 549.3,191.4 549.7,192.4 550.0,192.4 550.4,191.9 550.7,190.5 551.1,190.4 551.4,189.5 551.8,192.7 552.1,191.8 552.5,192.2 552.8,189.5 553.2,190.7 553.5,192.2 553.9,191.2 554.2,189.0 554.6,190.5 554.9,192.4 555.3,189.3 555.6,189.0 556.0,189.4 556.3,191.2 556.7,191.7 557.0,188.4 557.4,188.3 557.7,188.7 558.1,188.9 558.4,189.7 558.8,188.0 559.1,188.7 559.5,188.0 559.8,191.6 560.2,190.5 560.5,187.6 560.9,191.6 561.2,187.7 561.6,189.1 561.9,192.0 562.3,191.2 562.6,191.0 563.0,189.7 563.3,188.7 563.7,190.9 564.0,188.5 564.4,189.1 564.7,190.0 565.1,188.5 565.4,190.3 565.8,192.1 566.1,191.8 566.5,190.9 566.8,191.6 567.2,190.9 567.5,189.4 567.9,191.6 568.2,190.7 568.6,192.3 568.9,193.1 569.3,190.9 569.6,191.6 570.0,192.4 570.3,190.9 570.7,190.1 571.0,192.3 571.4,193.1 571.7,192.6 572.1,192.3 572.4,193.0 572.8,192.2 573.1,192.0 573.5,191.1 573.8,190.5 574.2,191.9 574.5,189.5 574.9,191.0 575.2,192.7 575.6,192.3 575.9,192.0 576.3,190.2 576.6,191.0 577.0,191.2 577.3,191.9 577.7,191.0 578.0,192.2 578.4,193.3 578.7,189.9 579.1,192.1 579.4,192.7 579.8,190.9 580.1,191.3 580.5,193.6 580.8,189.2 581.2,191.6 581.5,189.8 581.9,192.7 582.2,193.4 582.6,191.5 582.9,189.5 583.3,191.7 583.6,191.6 584.0,192.4 584.3,191.4 584.7,192.0 585.0,192.9 585.4,191.5 585.7,190.9 586.1,193.4 586.4,190.0 586.8,192.2 587.1,190.8 587.5,192.5 587.8,189.6 588.2,193.6 588.5,190.7 588.9,189.3 589.2,190.3 589.6,190.8 589.9,189.1 590.3,190.9 590.6,190.9 591.0,192.2 591.3,190.6 591.7,190.1 592.0,189.9 592.4,192.3 592.7,193.2 593.1,191.2 593.4,189.8 593.8,192.4 594.1,190.5 594.5,189.6 594.8,189.1 595.2,192.1 595.5,192.1 595.9,191.3 596.2,190.4 596.6,190.8 596.9,189.2 597.3,192.5 597.6,189.6 598.0,190.8 598.3,191.6 598.7,191.5 599.0,189.9 599.4,189.1 599.7,190.2 600.1,188.3 600.4,191.5 600.8,189.3 601.1,191.7 601.5,189.0 601.8,189.6 602.2,189.1 602.5,189.9 602.9,188.9 603.2,188.1 603.6,191.5 603.9,189.6 604.3,189.5 604.6,189.8 605.0,190.7 605.3,190.5 605.7,191.5 606.0,191.7 606.4,190.4 606.7,193.0 607.1,192.7 607.4,189.1 607.8,192.6 608.1,193.0 608.5,192.5 608.8,189.6 609.2,192.7 609.5,191.8 609.9,189.0 610.2,189.0 610.6,193.3 610.9,192.0 611.3,190.1 611.6,189.5 612.0,189.6 612.3,190.1 612.7,192.6 613.0,190.6 613.4,189.7 613.7,193.2 614.1,192.6 614.4,189.8 614.8,193.1 615.1,191.8 615.5,192.6 615.8,192.1 616.2,193.1 616.5,192.6 616.9,192.9 617.2,189.9 617.6,192.2 617.9,191.5 618.3,192.4 618.6,191.0 619.0,193.1 619.3,191.6 619.7,190.2 620.0,190.1 620.4,189.7 620.7,191.3 621.1,189.3 621.4,191.2 621.8,189.7 622.1,191.3 622.5,191.3 622.8,191.5 623.2,193.0 623.5,189.0 623.9,192.9 624.2,191.2 624.6,191.6 624.9,192.1 625.3,192.9 625.6,190.7 626.0,190.9 626.3,193.4 626.7,189.4 627.0,191.9 627.4,191.9 627.7,189.1 628.1,191.8 628.4,192.1 628.8,193.3 629.1,190.5 629.5,193.5 629.8,191.4 630.2,191.2 630.5,193.1 630.9,189.2 631.2,192.3 631.6,191.9 631.9,190.6 632.3,193.0 632.6,190.7 633.0,191.2 633.3,191.4 633.7,192.5 634.0,190.0 634.4,191.0 634.7,190.9 635.1,191.5 635.4,192.8 635.8,190.3 636.1,192.8 636.5,190.9 636.8,191.3 637.2,190.2 637.5,191.3 637.9,193.5 638.2,192.0 638.6,192.6 638.9,190.5 639.3,190.4 639.6,190.4 640.0,191.7 640.3,191.9 640.7,192.6 641.0,189.2 641.4,192.3 641.4,198.0 101.3,198.0" fill="#ffffff"/>
<polyline points="101.3,173.7 101.6,171.9 102.0,172.5 102.3,167.5 102.7,166.8 103.0,162.9 103.4,158.9 103.7,159.9 104.1,158.5 104.4,162.8 104.8,164.4 105.1,167.7 105.5,171.9 105.8,175.9 106.2,174.1 106.5,175.5 106.9,178.0 107.2,179.8 107.6,178.4 107.9,177.8 108.3,180.6 108.6,176.5 109.0,180.4 109.3,177.8 109.7,177.2 110.0,177.1 110.4,177.9 110.7,179.9 111.1,176.5 111.4,177.4 111.8,176.3 112.1,173.0 112.5,171.2 112.8,166.1 113.2,163.5 113.5,162.6 113.9,164.9 114.2,165.7 114.6,168.0 114.9,172.2 115.3,174.2 115.6,175.6 116.0,179.3 116.3,179.8 116.7,178.3 117.0,180.2 117.4,180.3 117.7,182.1 118.1,181.5 118.4,179.6 118.8,182.9 119.1,179.0 119.5,180.5 119.8,182.1 120.2,179.4 120.5,181.0 120.9,178.9 121.2,181.8 121.6,182.3 121.9,181.4 122.3,182.8 122.6,180.2 123.0,181.9 123.3,181.3 123.7,181.0 124.0,180.0 124.4,181.0 124.7,180.4 125.1,176.9 125.4,176.5 125.8,172.8 126.1,175.7 126.5,176.3 126.8,179.2 127.2,179.8 127.5,178.5 127.9,179.8 128.2,181.6 128.6,178.9 128.9,181.1 129.3,179.9 129.6,179.7 130.0,179.5 130.3,182.7 130.7,179.8 131.0,180.4 131.4,181.0 131.7,183.2 132.1,179.5 132.4,181.1 132.8,181.5 133.1,183.0 133.5,182.5 133.8,182.6 134.2,179.6 134.5,179.8 134.9,178.9 135.2,180.1 135.6,178.5 135.9,171.7 136.3,167.3 136.6,161.5 137.0,154.4 137.3,148.4 137.7,143.4 138.0,140.3 138.4,142.0 138.7,150.1 139.1,157.3 139.4,165.1 139.8,172.6 140.1,175.5 140.5,177.5 140.8,179.7 141.2,181.0 141.5,178.7 141.9,183.0 142.2,182.7 142.6,183.4 142.9,183.2 143.3,181.4 143.6,181.6 144.0,180.3 144.3,182.8 144.7,180.2 145.0,180.3 145.4,181.0 145.7,180.8 146.1,181.7 146.4,180.4 146.8,180.2 147.1,180.9 147.5,180.7 147.8,181.9 148.2,180.3 148.5,184.3 148.9,183.1 149.2,180.9 149.6,181.4 149.9,181.8 150.3,181.9 150.6,180.7 151.0,184.0 151.3,184.6 151.7,182.1 152.0,182.1 152.4,180.2 152.7,180.0 153.1,180.9 153.4,180.1 153.8,182.0 154.1,178.1 154.5,176.3 154.8,179.1 155.2,175.3 155.5,171.6 155.9,171.4 156.2,167.3 156.6,168.4 156.9,170.1 157.3,170.2 157.6,170.7 158.0,170.6 158.3,173.0 158.7,174.0 159.0,178.4 159.4,178.6 159.7,180.7 160.1,179.4 160.4,179.3 160.8,182.3 161.1,183.1 161.5,182.4 161.8,181.9 162.2,181.3 162.5,179.7 162.9,175.0 163.2,172.5 163.6,165.9 163.9,156.8 164.3,148.3 164.6,142.2 165.0,139.1 165.3,144.1 165.7,152.6 166.0,158.8 166.4,168.7 166.7,174.8 167.1,178.5 167.4,178.1 167.8,178.7 168.1,179.4 168.5,179.7 168.8,179.9 169.2,182.0 169.5,183.2 169.9,182.9 170.2,181.1 170.6,181.5 170.9,181.4 171.3,176.9 171.6,177.6 172.0,175.6 172.3,170.9 172.7,165.6 173.0,158.8 173.4,152.8 173.7,153.4 174.1,152.4 174.4,158.5 174.8,164.5 175.1,167.0 175.5,171.3 175.8,176.8 176.2,177.6 176.5,175.8 176.9,175.2 177.2,173.5 177.6,172.6 177.9,164.0 178.3,147.6 178.6,132.7 179.0,114.1 179.3,99.6 179.7,99.4 180.0,115.0 180.4,132.8 180.7,149.9 181.1,167.1 181.4,173.5 181.8,177.2 182.1,181.3 182.5,180.3 182.8,183.0 183.2,183.3 183.5,180.9 183.9,181.4 184.2,181.8 184.6,181.8 184.9,183.6 185.3,182.2 185.6,183.1 186.0,181.8 186.3,185.5 186.7,183.0 187.0,183.6 187.4,184.2 187.7,185.8 188.1,183.6 188.4,185.9 188.8,184.0 189.1,184.2 189.5,184.2 189.8,181.9 190.2,183.8 190.5,182.7 190.9,181.8 191.2,185.5 191.6,182.5 191.9,183.9 192.3,185.0 192.6,184.2 193.0,183.1 193.3,184.0 193.7,184.1 194.0,185.1 194.4,181.9 194.7,183.9 195.1,182.4 195.4,182.5 195.8,184.6 196.1,183.3 196.5,183.4 196.8,184.2 197.2,184.7 197.5,182.3 197.9,182.8 198.2,181.9 198.6,181.4 198.9,181.4 199.3,179.0 199.6,177.4 200.0,174.1 200.3,171.9 200.7,165.0 201.0,158.6 201.4,151.0 201.7,140.2 202.1,135.9 202.4,135.6 202.8,137.1 203.1,138.8 203.5,144.5 203.8,151.0 204.2,152.6 204.5,154.6 204.9,153.4 205.2,154.8 205.6,154.5 205.9,155.8 206.3,155.0 206.6,161.5 207.0,165.6 207.3,167.1 207.7,173.5 208.0,175.7 208.4,172.7 208.7,174.8 209.1,169.3 209.4,165.0 209.8,161.1 210.1,153.8 210.5,145.1 210.8,143.7 211.2,145.8 211.5,150.2 211.9,156.4 212.2,163.7 212.6,171.4 212.9,172.5 213.3,177.9 213.6,179.2 214.0,178.4 214.3,180.6 214.7,182.4 215.0,182.1 215.4,180.3 215.7,184.7 216.1,183.9 216.4,184.8 216.8,180.9 217.1,181.7 217.5,180.7 217.8,184.2 218.2,181.9 218.5,181.2 218.9,182.6 219.2,184.8 219.6,184.4 219.9,181.8 220.3,181.3 220.6,184.8 221.0,183.2 221.3,183.8 221.7,180.8 222.0,180.5 222.4,183.0 222.7,181.1 223.1,178.5 223.4,180.9 223.8,177.5 224.1,175.9 224.5,170.3 224.8,172.2 225.2,168.2 225.5,173.0 225.9,173.2 226.2,175.1 226.6,178.2 226.9,181.7 227.3,179.8 227.6,179.9 228.0,182.0 228.3,180.5 228.7,179.4 229.0,178.4 229.4,175.9 229.7,173.5 230.1,169.5 230.4,164.0 230.8,160.0 231.1,152.5 231.5,150.6 231.8,150.1 232.2,155.1 232.5,159.5 232.9,166.6 233.2,170.8 233.6,178.1 233.9,180.1 234.3,180.2 234.6,182.7 235.0,185.4 235.3,182.1 235.7,185.6 236.0,184.1 236.4,184.5 236.7,186.2 237.1,184.3 237.4,184.9 237.8,185.9 238.1,187.3 238.5,184.4 238.8,186.7 239.2,186.2 239.5,185.8 239.9,184.8 240.2,184.5 240.6,183.1 240.9,183.4 241.3,183.0 241.6,185.8 242.0,183.2 242.3,182.0 242.7,180.5 243.0,182.3 243.4,180.1 243.7,176.3 244.1,171.1 244.4,167.5 244.8,165.0 245.1,164.5 245.5,163.9 245.8,167.7 246.2,170.3 246.5,177.0 246.9,180.3 247.2,180.9 247.6,181.5 247.9,186.2 248.3,184.1 248.6,184.9 249.0,183.7 249.3,185.7 249.7,186.3 250.0,186.6 250.4,185.3 250.7,186.7 251.1,184.5 251.4,185.7 251.8,184.9 252.1,186.4 252.5,184.8 252.8,184.7 253.2,186.0 253.5,185.7 253.9,187.3 254.2,187.1 254.6,188.1 254.9,187.7 255.3,187.9 255.6,188.7 256.0,186.4 256.3,186.1 256.7,189.1 257.0,185.3 257.4,187.9 257.7,187.5 258.1,184.8 258.4,188.4 258.8,188.6 259.1,187.4 259.5,187.8 259.8,188.2 260.2,185.0 260.5,186.7 260.9,186.6 261.2,188.0 261.6,187.8 261.9,187.8 262.3,186.6 262.6,187.8 263.0,186.5 263.3,186.2 263.7,183.3 264.0,181.3 264.4,180.2 264.7,179.0 265.1,175.0 265.4,175.0 265.8,170.3 266.1,167.8 266.5,166.3 266.8,167.0 267.2,168.2 267.5,169.1 267.9,176.1 268.2,179.0 268.6,180.4 268.9,182.5 269.3,184.3 269.6,182.4 270.0,185.9 270.3,183.9 270.7,183.1 271.0,183.9 271.4,185.7 271.7,182.9 272.1,184.9 272.4,185.3 272.8,182.4 273.1,181.0 273.5,180.6 273.8,180.6 274.2,180.3 274.5,179.0 274.9,178.9 275.2,176.4 275.6,177.1 275.9,178.3 276.3,181.4 276.6,180.3 277.0,182.4 277.3,180.7 277.7,181.6 278.0,183.3 278.4,185.6 278.7,186.1 279.1,186.4 279.4,184.9 279.8,186.1 280.1,186.0 280.5,186.1 280.8,184.6 281.2,188.2 281.5,185.1 281.9,188.7 282.2,188.5 282.6,184.3 282.9,186.4 283.3,188.1 283.6,188.8 284.0,186.4 284.3,185.6 284.7,185.3 285.0,188.7 285.4,185.4 285.7,187.1 286.1,185.0 286.4,186.8 286.8,188.7 287.1,185.0 287.5,188.1 287.8,186.6 288.2,188.3 288.5,187.4 288.9,185.1 289.2,187.9 289.6,185.7 289.9,183.0 290.3,182.1 290.6,183.1 291.0,181.2 291.3,178.3 291.7,175.1 292.0,173.5 292.4,171.4 292.7,172.9 293.1,169.6 293.4,174.8 293.8,177.6 294.1,176.9 294.5,182.9 294.9,183.8 295.2,186.1 295.6,184.3 295.9,185.3 296.3,185.8 296.6,188.8 297.0,187.1 297.3,186.2 297.7,186.6 298.0,186.0 298.4,185.0 298.7,185.3 299.1,188.7 299.4,186.2 299.8,189.2 300.1,186.1 300.5,186.2 300.8,187.3 301.2,185.9 301.5,186.7 301.9,189.4 302.2,189.1 302.6,188.7 302.9,187.9 303.3,189.2 303.6,189.3 304.0,187.5 304.3,188.2 304.7,185.1 305.0,188.2 305.4,186.8 305.7,188.1 306.1,187.5 306.4,185.6 306.8,184.2 307.1,187.8 307.5,183.3 307.8,183.8 308.2,181.6 308.5,179.3 308.9,178.8 309.2,177.1 309.6,171.0 309.9,170.5 310.3,167.6 310.6,168.9 311.0,169.6 311.3,171.1 311.7,173.9 312.0,176.9 312.4,182.6 312.7,182.7 313.1,183.0 313.4,187.3 313.8,188.4 314.1,186.4 314.5,185.3 314.8,185.8 315.2,185.5 315.5,186.7 315.9,185.7 316.2,186.4 316.6,186.6 316.9,188.1 317.3,189.6 317.6,189.0 318.0,187.5 318.3,187.5 318.7,188.1 319.0,187.4 319.4,187.3 319.7,186.0 320.1,187.0 320.4,190.2 320.8,186.3 321.1,188.1 321.5,188.6 321.8,189.7 322.2,186.7 322.5,187.0 322.9,186.8 323.2,187.5 323.6,187.7 323.9,190.0 324.3,189.5 324.6,189.5 325.0,185.5 325.3,185.5 325.7,188.4 326.0,189.0 326.4,186.6 326.7,186.3 327.1,182.4 327.4,182.5 327.8,182.8 328.1,179.9 328.5,177.7 328.8,176.6 329.2,173.2 329.5,173.9 329.9,176.4 330.2,180.6 330.6,183.5 330.9,186.5 331.3,186.7 331.6,187.1 332.0,188.2 332.3,187.0 332.7,187.6 333.0,185.3 333.4,188.8 333.7,186.2 334.1,189.4 334.4,188.0 334.8,186.3 335.1,185.2 335.5,185.2 335.8,186.1 336.2,185.1 336.5,180.6 336.9,178.1 337.2,177.7 337.6,175.8 337.9,173.7 338.3,173.3 338.6,176.7 339.0,176.4 339.3,180.2 339.7,183.0 340.0,186.9 340.4,186.6 340.7,188.4 341.1,186.9 341.4,186.0 341.8,186.2 342.1,189.6 342.5,188.4 342.8,186.6 343.2,185.2 343.5,187.2 343.9,187.8 344.2,186.2 344.6,184.9 344.9,185.9 345.3,185.9 345.6,181.3 346.0,179.0 346.3,179.1 346.7,178.8 347.0,180.1 347.4,178.7 347.7,182.7 348.1,183.9 348.4,184.2 348.8,183.9 349.1,188.3 349.5,185.9 349.8,188.6 350.2,186.1 350.5,186.2 350.9,188.8 351.2,186.7 351.6,189.7 351.9,187.7 352.3,186.2 352.6,186.4 353.0,187.2 353.3,188.3 353.7,189.4 354.0,185.6 354.4,186.5 354.7,185.4 355.1,188.5 355.4,184.2 355.8,183.3 356.1,182.8 356.5,183.7 356.8,185.5 357.2,184.9 357.5,183.8 357.9,184.8 358.2,184.5 358.6,181.9 358.9,181.6 359.3,185.6 359.6,185.3 360.0,182.6 360.3,186.0 360.7,185.1 361.0,185.5 361.4,185.6 361.7,185.0 362.1,184.4 362.4,185.7 362.8,186.1 363.1,188.8 363.5,184.9 363.8,188.7 364.2,185.1 364.5,185.7 364.9,187.6 365.2,187.4 365.6,185.4 365.9,183.5 366.3,185.2 366.6,184.4 367.0,186.7 367.3,183.1 367.7,183.5 368.0,185.7 368.4,181.4 368.7,182.8 369.1,184.4 369.4,183.9 369.8,180.3 370.1,180.0 370.5,179.8 370.8,183.6 371.2,180.4 371.5,182.5 371.9,183.1 372.2,180.4 372.6,180.1 372.9,183.2 373.3,181.6 373.6,180.0 374.0,182.1 374.3,180.2 374.7,180.0 375.0,178.6 375.4,181.9 375.7,182.4 376.1,180.7 376.4,181.7 376.8,177.0 377.1,177.4 377.5,178.0 377.8,179.6 378.2,179.0 378.5,175.9 378.9,174.8 379.2,175.4 379.6,175.7 379.9,177.8 380.3,174.7 380.6,178.1 381.0,178.4 381.3,179.4 381.7,179.6 382.0,179.2 382.4,178.0 382.7,177.8 383.1,177.4 383.4,178.4 383.8,174.0 384.1,173.0 384.5,174.0 384.8,170.3 385.2,168.5 385.5,168.2 385.9,171.2 386.2,171.5 386.6,176.4 386.9,178.0 387.3,180.5 387.6,179.0 388.0,179.8 388.3,181.2 388.7,184.1 389.0,185.8 389.4,185.2 389.7,184.6 390.1,185.7 390.4,186.8 390.8,187.1 391.1,187.5 391.5,187.9 391.8,186.9 392.2,184.3 392.5,187.3 392.9,184.3 393.2,184.9 393.6,183.2 393.9,183.7 394.3,179.8 394.6,178.4 395.0,176.6 395.3,174.3 395.7,176.0 396.0,173.4 396.4,171.7 396.7,172.4 397.1,176.2 397.4,175.5 397.8,176.1 398.1,180.6 398.5,181.6 398.8,184.7 399.2,181.8 399.5,184.5 399.9,186.9 400.2,187.5 400.6,188.3 400.9,184.5 401.3,185.9 401.6,185.2 402.0,185.6 402.3,189.3 402.7,187.6 403.0,189.2 403.4,186.7 403.7,189.0 404.1,187.1 404.4,186.3 404.8,188.7 405.1,189.5 405.5,185.6 405.8,187.9 406.2,188.0 406.5,186.1 406.9,186.8 407.2,185.8 407.6,186.0 407.9,186.2 408.3,187.7 408.6,187.9 409.0,185.7 409.3,184.7 409.7,185.9 410.0,187.2 410.4,184.6 410.7,184.8 411.1,183.8 411.4,186.0 411.8,184.4 412.1,181.6 412.5,181.4 412.8,182.4 413.2,183.0 413.5,183.5 413.9,181.2 414.2,182.0 414.6,184.9 414.9,184.2 415.3,184.1 415.6,184.7 416.0,188.1 416.3,185.5 416.7,187.0 417.0,186.3 417.4,186.8 417.7,189.0 418.1,189.7 418.4,186.8 418.8,186.1 419.1,188.6 419.5,186.2 419.8,185.3 420.2,189.5 420.5,187.3 420.9,189.1 421.2,187.2 421.6,189.4 421.9,187.5 422.3,186.1 422.6,185.5 423.0,187.9 423.3,188.3 423.7,189.6 424.0,185.8 424.4,188.3 424.7,187.1 425.1,187.7 425.4,186.1 425.8,186.7 426.1,187.8 426.5,189.6 426.8,185.9 427.2,187.6 427.5,189.0 427.9,189.8 428.2,186.2 428.6,185.8 428.9,189.5 429.3,189.6 429.6,187.3 430.0,185.2 430.3,189.0 430.7,186.2 431.0,188.2 431.4,186.4 431.7,186.6 432.1,182.8 432.4,184.8 432.8,181.4 433.1,181.5 433.5,183.0 433.8,182.8 434.2,180.2 434.5,181.0 434.9,182.6 435.2,184.1 435.6,184.3 435.9,183.8 436.3,184.9 436.6,187.6 437.0,188.7 437.3,185.0 437.7,187.6 438.0,188.6 438.4,185.3 438.7,189.0 439.1,185.8 439.4,188.0 439.8,187.8 440.1,188.2 440.5,186.7 440.8,187.3 441.2,188.0 441.5,187.3 441.9,188.4 442.2,187.5 442.6,187.5 442.9,185.6 443.3,188.3 443.6,187.7 444.0,186.5 444.3,189.0 444.7,189.0 445.0,187.6 445.4,186.2 445.7,187.6 446.1,185.8 446.4,185.9 446.8,187.2 447.1,185.6 447.5,187.1 447.8,187.3 448.2,185.1 448.5,187.7 448.9,184.9 449.2,187.8 449.6,187.8 449.9,186.3 450.3,184.0 450.6,185.8 451.0,185.0 451.3,187.3 451.7,183.3 452.0,186.3 452.4,186.7 452.7,185.2 453.1,185.3 453.4,182.2 453.8,185.6 454.1,183.2 454.5,185.2 454.8,185.0 455.2,181.5 455.5,184.5 455.9,185.2 456.2,181.4 456.6,182.9 456.9,185.1 457.3,182.6 457.6,186.3 458.0,183.7 458.3,186.6 458.7,183.8 459.0,185.8 459.4,188.0 459.7,185.0 460.1,185.5 460.4,186.9 460.8,186.3 461.1,185.2 461.5,186.1 461.8,186.2 462.2,189.9 462.5,188.8 462.9,189.9 463.2,186.7 463.6,189.6 463.9,186.5 464.3,188.4 464.6,188.8 465.0,187.4 465.3,189.5 465.7,187.7 466.0,187.2 466.4,187.8 466.7,183.2 467.1,186.0 467.4,182.9 467.8,180.4 468.1,180.9 468.5,177.5 468.8,180.5 469.2,179.0 469.5,179.0 469.9,182.3 470.2,182.3 470.6,182.6 470.9,186.5 471.3,184.5 471.6,188.9 472.0,186.9 472.3,189.2 472.7,191.1 473.0,189.5 473.4,190.1 473.7,188.6 474.1,187.2 474.4,187.5 474.8,188.1 475.1,190.3 475.5,189.5 475.8,189.9 476.2,191.7 476.5,188.2 476.9,188.7 477.2,190.7 477.6,187.8 477.9,187.8 478.3,189.4 478.6,188.3 479.0,189.5 479.3,188.9 479.7,190.6 480.0,190.7 480.4,188.9 480.7,190.9 481.1,190.2 481.4,188.6 481.8,192.3 482.1,189.1 482.5,188.7 482.8,188.5 483.2,191.0 483.5,192.1 483.9,191.7 484.2,189.9 484.6,189.3 484.9,188.1 485.3,191.1 485.6,190.7 486.0,189.7 486.3,191.1 486.7,190.2 487.0,192.4 487.4,191.5 487.7,189.3 488.1,192.3 488.4,188.3 488.8,190.6 489.1,190.0 489.5,189.2 489.8,188.4 490.2,191.7 490.5,188.1 490.9,190.6 491.2,192.3 491.6,188.6 491.9,188.8 492.3,190.6 492.6,190.1 493.0,190.6 493.3,191.3 493.7,188.2 494.0,188.6 494.4,188.4 494.7,187.1 495.1,190.8 495.4,190.1 495.8,189.7 496.1,186.3 496.5,190.0 496.8,189.5 497.2,188.2 497.5,189.5 497.9,188.3 498.2,187.4 498.6,187.0 498.9,187.8 499.3,187.1 499.6,188.6 500.0,190.7 500.3,190.6 500.7,191.5 501.0,191.0 501.4,189.1 501.7,190.5 502.1,190.0 502.4,191.7 502.8,190.6 503.1,189.4 503.5,191.2 503.8,192.7 504.2,189.3 504.5,192.3 504.9,188.4 505.2,189.5 505.6,189.4 505.9,191.7 506.3,192.6 506.6,191.7 507.0,189.8 507.3,192.3 507.7,189.7 508.0,189.3 508.4,192.3 508.7,190.9 509.1,191.1 509.4,190.9 509.8,192.3 510.1,189.8 510.5,191.4 510.8,190.6 511.2,191.1 511.5,189.0 511.9,190.1 512.2,189.2 512.6,187.8 512.9,187.2 513.3,188.9 513.6,186.2 514.0,189.9 514.3,186.3 514.7,185.7 515.0,186.1 515.4,189.9 515.7,187.2 516.1,186.4 516.4,186.0 516.8,186.3 517.1,189.5 517.5,189.4 517.8,189.9 518.2,190.2 518.5,187.3 518.9,189.9 519.2,189.1 519.6,191.3 519.9,191.4 520.3,191.9 520.6,188.1 521.0,191.9 521.3,192.2 521.7,192.3 522.0,188.5 522.4,188.9 522.7,188.5 523.1,188.1 523.4,191.8 523.8,191.5 524.1,190.6 524.5,191.4 524.8,190.5 525.2,188.8 525.5,187.8 525.9,187.7 526.2,190.6 526.6,188.0 526.9,188.4 527.3,188.8 527.6,186.8 528.0,187.8 528.3,187.9 528.7,189.9 529.0,188.3 529.4,188.1 529.7,191.1 530.1,189.0 530.4,190.7 530.8,189.7 531.1,187.1 531.5,189.0 531.8,189.2 532.2,190.9 532.5,189.1 532.9,190.8 533.2,190.2 533.6,188.8 533.9,191.9 534.3,188.5 534.6,191.9 535.0,189.0 535.3,188.3 535.7,189.3 536.0,192.0 536.4,193.0 536.7,188.6 537.1,190.9 537.4,190.9 537.8,192.4 538.1,189.6 538.5,191.0 538.8,190.4 539.2,192.6 539.5,190.0 539.9,193.2 540.2,190.1 540.6,189.8 540.9,192.1 541.3,191.2 541.6,189.4 542.0,191.8 542.3,189.3 542.7,192.5 543.0,192.1 543.4,192.5 543.7,191.8 544.1,190.6 544.4,190.8 544.8,190.7 545.1,193.0 545.5,189.3 545.8,193.0 546.2,189.1 546.5,189.9 546.9,190.1 547.2,193.1 547.6,191.2 547.9,190.7 548.3,193.0 548.6,190.0 549.0,191.0 549.3,191.4 549.7,192.4 550.0,192.4 550.4,191.9 550.7,190.5 551.1,190.4 551.4,189.5 551.8,192.7 552.1,191.8 552.5,192.2 552.8,189.5 553.2,190.7 553.5,192.2 553.9,191.2 554.2,189.0 554.6,190.5 554.9,192.4 555.3,189.3 555.6,189.0 556.0,189.4 556.3,191.2 556.7,191.7 557.0,188.4 557.4,188.3 557.7,188.7 558.1,188.9 558.4,189.7 558.8,188.0 559.1,188.7 559.5,188.0 559.8,191.6 560.2,190.5 560.5,187.6 560.9,191.6 561.2,187.7 561.6,189.1 561.9,192.0 562.3,191.2 562.6,191.0 563.0,189.7 563.3,188.7 563.7,190.9 564.0,188.5 564.4,189.1 564.7,190.0 565.1,188.5 565.4,190.3 565.8,192.1 566.1,191.8 566.5,190.9 566.8,191.6 567.2,190.9 567.5,189.4 567.9,191.6 568.2,190.7 568.6,192.3 568.9,193.1 569.3,190.9 569.6,191.6 570.0,192.4 570.3,190.9 570.7,190.1 571.0,192.3 571.4,193.1 571.7,192.6 572.1,192.3 572.4,193.0 572.8,192.2 573.1,192.0 573.5,191.1 573.8,190.5 574.2,191.9 574.5,189.5 574.9,191.0 575.2,192.7 575.6,192.3 575.9,192.0 576.3,190.2 576.6,191.0 577.0,191.2 577.3,191.9 577.7,191.0 578.0,192.2 578.4,193.3 578.7,189.9 579.1,192.1 579.4,192.7 579.8,190.9 580.1,191.3 580.5,193.6 580.8,189.2 581.2,191.6 581.5,189.8 581.9,192.7 582.2,193.4 582.6,191.5 582.9,189.5 583.3,191.7 583.6,191.6 584.0,192.4 584.3,191.4 584.7,192.0 585.0,192.9 585.4,191.5 585.7,190.9 586.1,193.4 586.4,190.0 586.8,192.2 587.1,190.8 587.5,192.5 587.8,189.6 588.2,193.6 588.5,190.7 588.9,189.3 589.2,190.3 589.6,190.8 589.9,189.1 590.3,190.9 590.6,190.9 591.0,192.2 591.3,190.6 591.7,190.1 592.0,189.9 592.4,192.3 592.7,193.2 593.1,191.2 593.4,189.8 593.8,192.4 594.1,190.5 594.5,189.6 594.8,189.1 595.2,192.1 595.5,192.1 595.9,191.3 596.2,190.4 596.6,190.8 596.9,189.2 597.3,192.5 597.6,189.6 598.0,190.8 598.3,191.6 598.7,191.5 599.0,189.9 599.4,189.1 599.7,190.2 600.1,188.3 600.4,191.5 600.8,189.3 601.1,191.7 601.5,189.0 601.8,189.6 602.2,189.1 602.5,189.9 602.9,188.9 603.2,188.1 603.6,191.5 603.9,189.6 604.3,189.5 604.6,189.8 605.0,190.7 605.3,190.5 605.7,191.5 606.0,191.7 606.4,190.4 606.7,193.0 607.1,192.7 607.4,189.1 607.8,192.6 608.1,193.0 608.5,192.5 608.8,189.6 609.2,192.7 609.5,191.8 609.9,189.0 610.2,189.0 610.6,193.3 610.9,192.0 611.3,190.1 611.6,189.5 612.0,189.6 612.3,190.1 612.7,192.6 613.0,190.6 613.4,189.7 613.7,193.2 614.1,192.6 614.4,189.8 614.8,193.1 615.1,191.8 615.5,192.6 615.8,192.1 616.2,193.1 616.5,192.6 616.9,192.9 617.2,189.9 617.6,192.2 617.9,191.5 618.3,192.4 618.6,191.0 619.0,193.1 619.3,191.6 619.7,190.2 620.0,190.1 620.4,189.7 620.7,191.3 621.1,189.3 621.4,191.2 621.8,189.7 622.1,191.3 622.5,191.3 622.8,191.5 623.2,193.0 623.5,189.0 623.9,192.9 624.2,191.2 624.6,191.6 624.9,192.1 625.3,192.9 625.6,190.7 626.0,190.9 626.3,193.4 626.7,189.4 627.0,191.9 627.4,191.9 627.7,189.1 628.1,191.8 628.4,192.1 628.8,193.3 629.1,190.5 629.5,193.5 629.8,191.4 630.2,191.2 630.5,193.1 630.9,189.2 631.2,192.3 631.6,191.9 631.9,190.6 632.3,193.0 632.6,190.7 633.0,191.2 633.3,191.4 633.7,192.5 634.0,190.0 634.4,191.0 634.7,190.9 635.1,191.5 635.4,192.8 635.8,190.3 636.1,192.8 636.5,190.9 636.8,191.3 637.2,190.2 637.5,191.3 637.9,193.5 638.2,192.0 638.6,192.6 638.9,190.5 639.3,190.4 639.6,190.4 640.0,191.7 640.3,191.9 640.7,192.6 641.0,189.2 641.4,192.3" fill="none" stroke="#0a0af5" stroke-width="2.1" stroke-linejoin="round"/>
<path transform="translate(113.70,158.00) scale(1.0)" fill="#1fa9e1" d="M0,5.2 C-1.5,3.2 -5.2,0.8 -5.2,-1.9 C-5.2,-4.1 -3.6,-5.1 -2.4,-5.1 C-1.1,-5.1 -0.3,-4.2 0,-3.2 C0.3,-4.2 1.1,-5.1 2.4,-5.1 C3.6,-5.1 5.2,-4.1 5.2,-1.9 C5.2,0.8 1.5,3.2 0,5.2 Z"/><g transform="translate(126.00,167.20) scale(1.0)" fill="#7f2cf0"><circle cx="0" cy="-2.9" r="2.5"/><circle cx="-2.9" cy="1.1" r="2.5"/><circle cx="2.9" cy="1.1" r="2.5"/><path d="M-0.7,-1 L0.7,-1 L0.9,4.2 L1.8,5.6 L-1.8,5.6 L-0.9,4.2 Z"/></g><path transform="translate(165.00,135.60) scale(1.0)" fill="#1fa9e1" d="M0,5.2 C-1.5,3.2 -5.2,0.8 -5.2,-1.9 C-5.2,-4.1 -3.6,-5.1 -2.4,-5.1 C-1.1,-5.1 -0.3,-4.2 0,-3.2 C0.3,-4.2 1.1,-5.1 2.4,-5.1 C3.6,-5.1 5.2,-4.1 5.2,-1.9 C5.2,0.8 1.5,3.2 0,5.2 Z"/><circle cx="173.80" cy="150.70" r="3.30" fill="#3d9b6d"/><path transform="translate(202.40,131.70) scale(1.0)" fill="#b01e3c" d="M0,-5.4 C-1.5,-3.2 -5.3,-1.2 -5.3,1.6 C-5.3,3.4 -3.9,4.3 -2.7,4.3 C-1.7,4.3 -1.0,3.8 -0.6,3.1 L-1.6,5.4 L1.6,5.4 L0.6,3.1 C1.0,3.8 1.7,4.3 2.7,4.3 C3.9,4.3 5.3,3.4 5.3,1.6 C5.3,-1.2 1.5,-3.2 0,-5.4 Z"/><path transform="translate(210.90,142.80) scale(1.0)" fill="#b01e3c" d="M0,-5.4 C-1.5,-3.2 -5.3,-1.2 -5.3,1.6 C-5.3,3.4 -3.9,4.3 -2.7,4.3 C-1.7,4.3 -1.0,3.8 -0.6,3.1 L-1.6,5.4 L1.6,5.4 L0.6,3.1 C1.0,3.8 1.7,4.3 2.7,4.3 C3.9,4.3 5.3,3.4 5.3,1.6 C5.3,-1.2 1.5,-3.2 0,-5.4 Z"/><path transform="translate(210.90,131.10) scale(1.0)" fill="#1fa9e1" d="M0,5.2 C-1.5,3.2 -5.2,0.8 -5.2,-1.9 C-5.2,-4.1 -3.6,-5.1 -2.4,-5.1 C-1.1,-5.1 -0.3,-4.2 0,-3.2 C0.3,-4.2 1.1,-5.1 2.4,-5.1 C3.6,-5.1 5.2,-4.1 5.2,-1.9 C5.2,0.8 1.5,3.2 0,5.2 Z"/><circle cx="225.10" cy="165.90" r="3.30" fill="#3d9b6d"/><g transform="translate(231.60,147.00) scale(1.0)" fill="#7f2cf0"><circle cx="0" cy="-2.9" r="2.5"/><circle cx="-2.9" cy="1.1" r="2.5"/><circle cx="2.9" cy="1.1" r="2.5"/><path d="M-0.7,-1 L0.7,-1 L0.9,4.2 L1.8,5.6 L-1.8,5.6 L-0.9,4.2 Z"/></g><circle cx="246.00" cy="160.60" r="3.30" fill="#3d9b6d"/><circle cx="266.80" cy="158.90" r="3.30" fill="#3d9b6d"/><g transform="translate(292.80,166.00) scale(1.0)" fill="#7f2cf0"><circle cx="0" cy="-2.9" r="2.5"/><circle cx="-2.9" cy="1.1" r="2.5"/><circle cx="2.9" cy="1.1" r="2.5"/><path d="M-0.7,-1 L0.7,-1 L0.9,4.2 L1.8,5.6 L-1.8,5.6 L-0.9,4.2 Z"/></g><path d="M292.80,149.60 L297.01,154.50 L292.80,159.40 L288.59,154.50 Z" fill="#ffa305" stroke="#ffa305" stroke-width="0.6" stroke-linejoin="round"/><circle cx="292.80" cy="143.60" r="3.30" fill="#3d9b6d"/><path transform="translate(292.80,131.20) scale(1.0)" fill="#1fa9e1" d="M0,5.2 C-1.5,3.2 -5.2,0.8 -5.2,-1.9 C-5.2,-4.1 -3.6,-5.1 -2.4,-5.1 C-1.1,-5.1 -0.3,-4.2 0,-3.2 C0.3,-4.2 1.1,-5.1 2.4,-5.1 C3.6,-5.1 5.2,-4.1 5.2,-1.9 C5.2,0.8 1.5,3.2 0,5.2 Z"/><path transform="translate(310.40,162.60) scale(1.0)" fill="#b01e3c" d="M0,-5.4 C-1.5,-3.2 -5.3,-1.2 -5.3,1.6 C-5.3,3.4 -3.9,4.3 -2.7,4.3 C-1.7,4.3 -1.0,3.8 -0.6,3.1 L-1.6,5.4 L1.6,5.4 L0.6,3.1 C1.0,3.8 1.7,4.3 2.7,4.3 C3.9,4.3 5.3,3.4 5.3,1.6 C5.3,-1.2 1.5,-3.2 0,-5.4 Z"/><g transform="translate(329.00,168.90) scale(1.0)" fill="#7f2cf0"><circle cx="0" cy="-2.9" r="2.5"/><circle cx="-2.9" cy="1.1" r="2.5"/><circle cx="2.9" cy="1.1" r="2.5"/><path d="M-0.7,-1 L0.7,-1 L0.9,4.2 L1.8,5.6 L-1.8,5.6 L-0.9,4.2 Z"/></g><g transform="translate(338.00,166.00) scale(1.0)" fill="#7f2cf0"><circle cx="0" cy="-2.9" r="2.5"/><circle cx="-2.9" cy="1.1" r="2.5"/><circle cx="2.9" cy="1.1" r="2.5"/><path d="M-0.7,-1 L0.7,-1 L0.9,4.2 L1.8,5.6 L-1.8,5.6 L-0.9,4.2 Z"/></g><circle cx="346.80" cy="175.00" r="3.30" fill="#3d9b6d"/><path d="M385.50,160.60 L389.71,165.50 L385.50,170.40 L381.29,165.50 Z" fill="#ffa305" stroke="#ffa305" stroke-width="0.6" stroke-linejoin="round"/><path transform="translate(385.50,154.60) scale(1.0)" fill="#1fa9e1" d="M0,5.2 C-1.5,3.2 -5.2,0.8 -5.2,-1.9 C-5.2,-4.1 -3.6,-5.1 -2.4,-5.1 C-1.1,-5.1 -0.3,-4.2 0,-3.2 C0.3,-4.2 1.1,-5.1 2.4,-5.1 C3.6,-5.1 5.2,-4.1 5.2,-1.9 C5.2,0.8 1.5,3.2 0,5.2 Z"/><circle cx="469.00" cy="172.40" r="3.30" fill="#3d9b6d"/>
<text x="589" y="116.5" font-size="19.3" font-family='"Liberation Serif", serif' fill="#111" stroke="#111" stroke-width="0.28">28d</text>
<text x="558.3" y="186.3" font-size="19.3" font-family='"Liberation Serif", serif' fill="#111" stroke="#111" stroke-width="0.28">7d</text>
<g stroke="#222" stroke-width="1.5"><line x1="60.8" y1="238.3" x2="60.8" y2="124.6"/><line x1="60.3" y1="237.8" x2="628" y2="237.8"/><line x1="54.30" y1="237.80" x2="60.8" y2="237.80"/><line x1="57.30" y1="228.43" x2="60.8" y2="228.43"/><line x1="54.30" y1="219.05" x2="60.8" y2="219.05"/><line x1="57.30" y1="209.68" x2="60.8" y2="209.68"/><line x1="54.30" y1="200.30" x2="60.8" y2="200.30"/><line x1="57.30" y1="190.93" x2="60.8" y2="190.93"/><line x1="54.30" y1="181.55" x2="60.8" y2="181.55"/><line x1="57.30" y1="172.18" x2="60.8" y2="172.18"/><line x1="54.30" y1="162.80" x2="60.8" y2="162.80"/><line x1="57.30" y1="153.43" x2="60.8" y2="153.43"/><line x1="54.30" y1="144.05" x2="60.8" y2="144.05"/><line x1="57.30" y1="134.68" x2="60.8" y2="134.68"/><line x1="54.30" y1="125.30" x2="60.8" y2="125.30"/><line x1="60.80" y1="237.8" x2="60.80" y2="244.30"/><line x1="78.25" y1="237.8" x2="78.25" y2="241.30"/><line x1="95.70" y1="237.8" x2="95.70" y2="241.30"/><line x1="113.16" y1="237.8" x2="113.16" y2="241.30"/><line x1="130.61" y1="237.8" x2="130.61" y2="241.30"/><line x1="148.06" y1="237.8" x2="148.06" y2="244.30"/><line x1="165.51" y1="237.8" x2="165.51" y2="241.30"/><line x1="182.97" y1="237.8" x2="182.97" y2="241.30"/><line x1="200.42" y1="237.8" x2="200.42" y2="241.30"/><line x1="217.87" y1="237.8" x2="217.87" y2="241.30"/><line x1="235.32" y1="237.8" x2="235.32" y2="244.30"/><line x1="252.78" y1="237.8" x2="252.78" y2="241.30"/><line x1="270.23" y1="237.8" x2="270.23" y2="241.30"/><line x1="287.68" y1="237.8" x2="287.68" y2="241.30"/><line x1="305.13" y1="237.8" x2="305.13" y2="241.30"/><line x1="322.58" y1="237.8" x2="322.58" y2="244.30"/><line x1="340.04" y1="237.8" x2="340.04" y2="241.30"/><line x1="357.49" y1="237.8" x2="357.49" y2="241.30"/><line x1="374.94" y1="237.8" x2="374.94" y2="241.30"/><line x1="392.39" y1="237.8" x2="392.39" y2="241.30"/><line x1="409.85" y1="237.8" x2="409.85" y2="244.30"/><line x1="427.30" y1="237.8" x2="427.30" y2="241.30"/><line x1="444.75" y1="237.8" x2="444.75" y2="241.30"/><line x1="462.20" y1="237.8" x2="462.20" y2="241.30"/><line x1="479.66" y1="237.8" x2="479.66" y2="241.30"/><line x1="497.11" y1="237.8" x2="497.11" y2="244.30"/><line x1="514.56" y1="237.8" x2="514.56" y2="241.30"/><line x1="532.01" y1="237.8" x2="532.01" y2="241.30"/><line x1="549.46" y1="237.8" x2="549.46" y2="241.30"/><line x1="566.92" y1="237.8" x2="566.92" y2="241.30"/><line x1="584.37" y1="237.8" x2="584.37" y2="244.30"/><line x1="601.82" y1="237.8" x2="601.82" y2="241.30"/><line x1="619.27" y1="237.8" x2="619.27" y2="241.30"/></g>
<g font-family='"Liberation Serif", serif' font-size="14.5" fill="#222" stroke="#222" stroke-width="0.28"><text x="49.2" y="243.30" text-anchor="end">0</text><text x="49.2" y="224.55" text-anchor="end">100</text><text x="49.2" y="205.80" text-anchor="end">200</text><text x="49.2" y="187.05" text-anchor="end">300</text><text x="49.2" y="168.30" text-anchor="end">400</text><text x="49.2" y="149.55" text-anchor="end">500</text><text x="49.2" y="130.80" text-anchor="end">600</text><text x="60.80" y="263.5" text-anchor="middle">20</text><text x="148.06" y="263.5" text-anchor="middle">30</text><text x="235.32" y="263.5" text-anchor="middle">40</text><text x="322.58" y="263.5" text-anchor="middle">50</text><text x="409.85" y="263.5" text-anchor="middle">60</text><text x="497.11" y="263.5" text-anchor="middle">70</text><text x="584.37" y="263.5" text-anchor="middle">80</text></g>
<text x="343.8" y="286.2" text-anchor="middle" font-family='"Liberation Serif", serif' font-size="18" fill="#222" stroke="#222" stroke-width="0.28">2θ/degree</text>
<text transform="translate(19.5,180.8) rotate(-90)" text-anchor="middle" font-family='"Liberation Serif", serif' font-size="18" fill="#222" stroke="#222" stroke-width="0.28">Intensity/(a.u.)</text>
<text x="23" y="48.2" font-family='"Liberation Serif", serif' font-size="22" font-weight="bold" letter-spacing="1" fill="#000" stroke="#000" stroke-width="0.28">a.</text>
<rect x="495.8" y="3.4" width="178.7" height="70.2" fill="#cabfdf" stroke="#8a8a8a" stroke-width="0.8"/>
<path d="M675.1,3.6 L675.1,74.1 L496,74.1" fill="none" stroke="#333" stroke-width="3"/>
<g transform="translate(529.00,18.60) scale(0.95)" fill="#7f2cf0"><circle cx="0" cy="-2.9" r="2.5"/><circle cx="-2.9" cy="1.1" r="2.5"/><circle cx="2.9" cy="1.1" r="2.5"/><path d="M-0.7,-1 L0.7,-1 L0.9,4.2 L1.8,5.6 L-1.8,5.6 L-0.9,4.2 Z"/></g>
<line x1="533.5" y1="18.8" x2="546.5" y2="18.8" stroke="#333" stroke-width="0.9"/>
<text x="546.8" y="22.2" font-family='"Liberation Serif", serif' font-size='12' fill='#2a2636' stroke="#2a2636" stroke-width="0.28"><tspan>CaCO</tspan><tspan font-size="8.2" dy="2.8">3</tspan><tspan dy="-2.8">​</tspan></text>
<path transform="translate(589.60,18.80) scale(0.72)" fill="#c8421e" d="M0,-5.4 C-1.5,-3.2 -5.3,-1.2 -5.3,1.6 C-5.3,3.4 -3.9,4.3 -2.7,4.3 C-1.7,4.3 -1.0,3.8 -0.6,3.1 L-1.6,5.4 L1.6,5.4 L0.6,3.1 C1.0,3.8 1.7,4.3 2.7,4.3 C3.9,4.3 5.3,3.4 5.3,1.6 C5.3,-1.2 1.5,-3.2 0,-5.4 Z"/>
<line x1="594" y1="18.8" x2="607.4" y2="18.8" stroke="#333" stroke-width="0.9"/>
<text x="607.6" y="22.2" font-family='"Liberation Serif", serif' font-size='12' fill='#2a2636' stroke="#2a2636" stroke-width="0.28"><tspan>Na</tspan><tspan font-size="8.2" dy="2.8">2</tspan><tspan dy="-2.8">​</tspan><tspan>CO</tspan><tspan font-size="8.2" dy="2.8">3</tspan><tspan dy="-2.8">​</tspan><tspan>·H</tspan><tspan font-size="8.2" dy="2.8">2</tspan><tspan dy="-2.8">​</tspan><tspan>O</tspan></text>
<circle cx="521.90" cy="41.30" r="3.13" fill="#3d9b6d"/>
<line x1="525" y1="41.3" x2="537" y2="41.3" stroke="#333" stroke-width="0.9"/>
<text x="537.2" y="44.6" font-family='"Liberation Serif", serif' font-size='12' fill='#2a2636' stroke="#2a2636" stroke-width="0.28"><tspan>Ca</tspan><tspan font-size="8.2" dy="2.8">6</tspan><tspan dy="-2.8">​</tspan><tspan>Al</tspan><tspan font-size="8.2" dy="2.8">2</tspan><tspan dy="-2.8">​</tspan><tspan>(SO</tspan><tspan font-size="8.2" dy="2.8">4</tspan><tspan dy="-2.8">​</tspan><tspan>)</tspan><tspan font-size="8.2" dy="2.8">3</tspan><tspan dy="-2.8">​</tspan><tspan>(OH)</tspan><tspan font-size="8.2" dy="2.8">12</tspan><tspan dy="-2.8">​</tspan><tspan>·26H</tspan><tspan font-size="8.2" dy="2.8">2</tspan><tspan dy="-2.8">​</tspan><tspan>O</tspan></text>
<path d="M505.00,58.23 L508.58,62.40 L505.00,66.56 L501.42,62.40 Z" fill="#ffa305" stroke="#ffa305" stroke-width="0.6" stroke-linejoin="round"/>
<line x1="509" y1="62.8" x2="521.2" y2="62.8" stroke="#333" stroke-width="0.9"/>
<text x="521.4" y="66.2" font-family='"Liberation Serif", serif' font-size='12' fill='#2a2636' stroke="#2a2636" stroke-width="0.28"><tspan>MgCO</tspan><tspan font-size="8.2" dy="2.8">3</tspan><tspan dy="-2.8">​</tspan></text>
<path transform="translate(567.40,62.60) scale(0.9)" fill="#1fa9e1" d="M0,5.2 C-1.5,3.2 -5.2,0.8 -5.2,-1.9 C-5.2,-4.1 -3.6,-5.1 -2.4,-5.1 C-1.1,-5.1 -0.3,-4.2 0,-3.2 C0.3,-4.2 1.1,-5.1 2.4,-5.1 C3.6,-5.1 5.2,-4.1 5.2,-1.9 C5.2,0.8 1.5,3.2 0,5.2 Z"/>
<line x1="572" y1="62.8" x2="585.2" y2="62.8" stroke="#333" stroke-width="0.9"/>
<text x="585.4" y="66.2" font-family='"Liberation Serif", serif' font-size='12' fill='#2a2636' stroke="#2a2636" stroke-width="0.28"><tspan>CaAl</tspan><tspan font-size="8.2" dy="2.8">2</tspan><tspan dy="-2.8">​</tspan><tspan>Si</tspan><tspan font-size="8.2" dy="2.8">2</tspan><tspan dy="-2.8">​</tspan><tspan>O</tspan><tspan font-size="8.2" dy="2.8">8</tspan><tspan dy="-2.8">​</tspan><tspan>·4H</tspan><tspan font-size="8.2" dy="2.8">2</tspan><tspan dy="-2.8">​</tspan><tspan>O</tspan></text>
</g>
<g id="panel-b">
<g stroke="#d6d6d6" stroke-width="0.9"><line x1="200.50" y1="565.46" x2="557.50" y2="565.46"/><line x1="164.70" y1="598.26" x2="200.50" y2="565.46"/><line x1="200.50" y1="537.52" x2="557.50" y2="537.52"/><line x1="164.70" y1="570.32" x2="200.50" y2="537.52"/><line x1="200.50" y1="509.58" x2="557.50" y2="509.58"/><line x1="164.70" y1="542.38" x2="200.50" y2="509.58"/><line x1="200.50" y1="481.64" x2="557.50" y2="481.64"/><line x1="164.70" y1="514.44" x2="200.50" y2="481.64"/><line x1="200.50" y1="453.70" x2="557.50" y2="453.70"/><line x1="164.70" y1="486.50" x2="200.50" y2="453.70"/><line x1="200.50" y1="425.76" x2="557.50" y2="425.76"/><line x1="164.70" y1="458.56" x2="200.50" y2="425.76"/><line x1="200.50" y1="397.82" x2="557.50" y2="397.82"/><line x1="164.70" y1="430.62" x2="200.50" y2="397.82"/><line x1="200.50" y1="369.88" x2="557.50" y2="369.88"/><line x1="164.70" y1="402.68" x2="200.50" y2="369.88"/></g>
<line x1="200.50" y1="355.91" x2="557.50" y2="355.91" stroke="#a0a0a0" stroke-width="0.9"/>
<line x1="164.70" y1="388.71" x2="200.50" y2="355.91" stroke="#555" stroke-width="0.9"/>
<line x1="200.50" y1="593.40" x2="200.50" y2="355.91" stroke="#a8a8a8" stroke-width="0.9"/>
<line x1="557.50" y1="593.40" x2="557.50" y2="355.91" stroke="#a8a8a8" stroke-width="0.9"/>
<line x1="200.50" y1="593.40" x2="557.50" y2="593.40" stroke="#6a6a6a" stroke-width="1"/>
<line x1="164.70" y1="626.20" x2="200.50" y2="593.40" stroke="#333" stroke-width="1"/>
<line x1="521.70" y1="626.20" x2="557.50" y2="593.40" stroke="#333" stroke-width="1"/>
<path d="M203.60,511.00 L189.30,609.80 A14.30,3.0 0 0 0 217.90,609.80 L203.60,511.00 Z" fill="url(#gR)" stroke="#8a8a8a" stroke-opacity="0.45" stroke-width="0.6"/><path d="M203.60,511.00 L189.30,609.80 A14.30,3.0 0 0 0 217.90,609.80 L203.60,511.00 Z" fill="url(#gS)"/>
<path d="M222.75,536.50 L217.70,609.80 A14.80,3.0 0 0 0 247.30,609.80 L242.25,536.50 Z" fill="url(#gG)" stroke="#8a8a8a" stroke-opacity="0.45" stroke-width="0.6"/><path d="M222.75,536.50 L217.70,609.80 A14.80,3.0 0 0 0 247.30,609.80 L242.25,536.50 Z" fill="url(#gS)"/><ellipse cx="232.50" cy="536.50" rx="9.75" ry="2.60" fill="#74dc98" stroke="#6a6a6a" stroke-opacity="0.4" stroke-width="0.5"/>
<path d="M275.30,403.90 L261.00,609.80 A14.30,3.0 0 0 0 289.60,609.80 L275.30,403.90 Z" fill="url(#gR)" stroke="#8a8a8a" stroke-opacity="0.45" stroke-width="0.6"/><path d="M275.30,403.90 L261.00,609.80 A14.30,3.0 0 0 0 289.60,609.80 L275.30,403.90 Z" fill="url(#gS)"/>
<path d="M303.60,409.90 L288.80,609.80 A14.80,3.0 0 0 0 318.40,609.80 L303.60,409.90 Z" fill="url(#gG)" stroke="#8a8a8a" stroke-opacity="0.45" stroke-width="0.6"/><path d="M303.60,409.90 L288.80,609.80 A14.80,3.0 0 0 0 318.40,609.80 L303.60,409.90 Z" fill="url(#gS)"/>
<path d="M346.30,542.30 L332.00,609.80 A14.30,3.0 0 0 0 360.60,609.80 L346.30,542.30 Z" fill="url(#gR)" stroke="#8a8a8a" stroke-opacity="0.45" stroke-width="0.6"/><path d="M346.30,542.30 L332.00,609.80 A14.30,3.0 0 0 0 360.60,609.80 L346.30,542.30 Z" fill="url(#gS)"/>
<path d="M374.60,422.60 L360.40,609.80 A14.80,3.0 0 0 0 390.00,609.80 L375.80,422.60 Z" fill="url(#gG)" stroke="#8a8a8a" stroke-opacity="0.45" stroke-width="0.6"/><path d="M374.60,422.60 L360.40,609.80 A14.80,3.0 0 0 0 390.00,609.80 L375.80,422.60 Z" fill="url(#gS)"/><ellipse cx="375.20" cy="422.60" rx="0.60" ry="0.18" fill="#60c080" stroke="#6a6a6a" stroke-opacity="0.4" stroke-width="0.5"/>
<path d="M418.00,493.10 L403.70,609.80 A14.30,3.0 0 0 0 432.30,609.80 L418.00,493.10 Z" fill="url(#gR)" stroke="#8a8a8a" stroke-opacity="0.45" stroke-width="0.6"/><path d="M418.00,493.10 L403.70,609.80 A14.30,3.0 0 0 0 432.30,609.80 L418.00,493.10 Z" fill="url(#gS)"/>
<path d="M446.60,411.40 L431.80,609.80 A14.80,3.0 0 0 0 461.40,609.80 L446.60,411.40 Z" fill="url(#gG)" stroke="#8a8a8a" stroke-opacity="0.45" stroke-width="0.6"/><path d="M446.60,411.40 L431.80,609.80 A14.80,3.0 0 0 0 461.40,609.80 L446.60,411.40 Z" fill="url(#gS)"/>
<path d="M489.30,586.40 L475.00,609.80 A14.30,3.0 0 0 0 503.60,609.80 L489.30,586.40 Z" fill="url(#gR)" stroke="#8a8a8a" stroke-opacity="0.45" stroke-width="0.6"/><path d="M489.30,586.40 L475.00,609.80 A14.30,3.0 0 0 0 503.60,609.80 L489.30,586.40 Z" fill="url(#gS)"/>
<path d="M517.00,429.50 L503.20,609.80 A14.80,3.0 0 0 0 532.80,609.80 L519.00,429.50 Z" fill="url(#gG)" stroke="#8a8a8a" stroke-opacity="0.45" stroke-width="0.6"/><path d="M517.00,429.50 L503.20,609.80 A14.80,3.0 0 0 0 532.80,609.80 L519.00,429.50 Z" fill="url(#gS)"/><ellipse cx="518.00" cy="429.50" rx="1.00" ry="0.30" fill="#6cc88a" stroke="#6a6a6a" stroke-opacity="0.4" stroke-width="0.5"/>
<g stroke="#222" stroke-width="1.4"><line x1="164.7" y1="626.7" x2="164.7" y2="388.71"/><line x1="164.2" y1="626.2" x2="521.7" y2="626.2"/><line x1="157.70" y1="626.20" x2="164.7" y2="626.20"/><line x1="161.20" y1="612.23" x2="164.7" y2="612.23"/><line x1="157.70" y1="598.26" x2="164.7" y2="598.26"/><line x1="161.20" y1="584.29" x2="164.7" y2="584.29"/><line x1="157.70" y1="570.32" x2="164.7" y2="570.32"/><line x1="161.20" y1="556.35" x2="164.7" y2="556.35"/><line x1="157.70" y1="542.38" x2="164.7" y2="542.38"/><line x1="161.20" y1="528.41" x2="164.7" y2="528.41"/><line x1="157.70" y1="514.44" x2="164.7" y2="514.44"/><line x1="161.20" y1="500.47" x2="164.7" y2="500.47"/><line x1="157.70" y1="486.50" x2="164.7" y2="486.50"/><line x1="161.20" y1="472.53" x2="164.7" y2="472.53"/><line x1="157.70" y1="458.56" x2="164.7" y2="458.56"/><line x1="161.20" y1="444.59" x2="164.7" y2="444.59"/><line x1="157.70" y1="430.62" x2="164.7" y2="430.62"/><line x1="161.20" y1="416.65" x2="164.7" y2="416.65"/><line x1="157.70" y1="402.68" x2="164.7" y2="402.68"/><line x1="161.20" y1="388.71" x2="164.7" y2="388.71"/><line x1="164.70" y1="626.2" x2="164.70" y2="630.20"/><line x1="200.40" y1="626.2" x2="200.40" y2="632.70"/><line x1="236.10" y1="626.2" x2="236.10" y2="630.20"/><line x1="271.80" y1="626.2" x2="271.80" y2="632.70"/><line x1="307.50" y1="626.2" x2="307.50" y2="630.20"/><line x1="343.20" y1="626.2" x2="343.20" y2="632.70"/><line x1="378.90" y1="626.2" x2="378.90" y2="630.20"/><line x1="414.60" y1="626.2" x2="414.60" y2="632.70"/><line x1="450.30" y1="626.2" x2="450.30" y2="630.20"/><line x1="486.00" y1="626.2" x2="486.00" y2="632.70"/><line x1="521.70" y1="626.2" x2="521.70" y2="630.20"/></g>
<g font-family='"Liberation Serif", serif' font-size="13.4" fill="#222" stroke="#222" stroke-width="0.28"><text x="154.4" y="630.80" text-anchor="end">0</text><text x="154.4" y="602.86" text-anchor="end">0.01</text><text x="154.4" y="574.92" text-anchor="end">0.02</text><text x="154.4" y="546.98" text-anchor="end">0.03</text><text x="154.4" y="519.04" text-anchor="end">0.04</text><text x="154.4" y="491.10" text-anchor="end">0.05</text><text x="154.4" y="463.16" text-anchor="end">0.06</text><text x="154.4" y="435.22" text-anchor="end">0.07</text><text x="154.4" y="407.28" text-anchor="end">0.08</text><text x="200.40" y="647.4" text-anchor="middle" font-size="15.2">&lt;0.01</text><text x="271.80" y="647.4" text-anchor="middle" font-size="15.2">0.01~0.1</text><text x="343.20" y="647.4" text-anchor="middle" font-size="15.2">0.1~1</text><text x="414.60" y="647.4" text-anchor="middle" font-size="15.2">1~10</text><text x="486.00" y="647.4" text-anchor="middle" font-size="15.2">&gt;10</text></g>
<text x="346.9" y="669.8" text-anchor="middle" font-family='"Liberation Serif", serif' font-size="16.2" fill="#222" stroke="#222" stroke-width="0.28">Pore diameter / (μm)</text>
<text transform="translate(116.2,502.0) rotate(-90)" text-anchor="middle" font-family='"Liberation Serif", serif' font-size="15.9" fill="#222" stroke="#222" stroke-width="0.28">Cumulative pore volume / (ml/g)</text>
<text x="35" y="402.6" font-family='"Liberation Serif", serif' font-size="22.5" font-weight="bold" fill="#000" stroke="#000" stroke-width="0.28">b.</text>
<rect x="394.4" y="355.5" width="164" height="41.7" fill="#fff" stroke="#9a9a9a" stroke-width="0.9"/>
<rect x="396.6" y="358.3" width="35.3" height="16.7" fill="url(#lR)"/>
<rect x="396.6" y="377.8" width="35.3" height="17.2" fill="url(#lG)"/>
<text x="436.7" y="372.6" font-family='"Liberation Serif", serif' font-size="15.85" fill="#222" stroke="#222" stroke-width="0.28">Solidified red mud</text>
<text x="436.7" y="391.6" font-family='"Liberation Serif", serif' font-size="15.85" fill="#222" stroke="#222" stroke-width="0.28">Red mud</text>
</g>
<g id="panel-c">
<line x1="123.5" y1="753.7" x2="123.5" y2="1103.4" stroke="#5a5a5a" stroke-width="1.6"/>
<line x1="123.0" y1="1103.4" x2="129.8" y2="1103.4" stroke="#5a5a5a" stroke-width="1.6"/>
<line x1="129.8" y1="1103.4" x2="559.6999999999999" y2="1103.4" stroke="#111" stroke-width="1.6"/>
<line x1="122.7" y1="753.7" x2="559.6999999999999" y2="753.7" stroke="#111" stroke-width="1.6"/>
<line x1="558.9" y1="753.7" x2="558.9" y2="1103.4" stroke="#111" stroke-width="1.6"/>
<g stroke-width="1.5"><line x1="123.5" y1="1071.61" x2="126.70" y2="1071.61" stroke="#5a5a5a"/><line x1="123.5" y1="1039.82" x2="129.50" y2="1039.82" stroke="#5a5a5a"/><line x1="123.5" y1="1008.03" x2="126.70" y2="1008.03" stroke="#5a5a5a"/><line x1="123.5" y1="976.24" x2="129.50" y2="976.24" stroke="#5a5a5a"/><line x1="123.5" y1="944.45" x2="126.70" y2="944.45" stroke="#5a5a5a"/><line x1="123.5" y1="912.65" x2="129.50" y2="912.65" stroke="#5a5a5a"/><line x1="123.5" y1="880.86" x2="126.70" y2="880.86" stroke="#5a5a5a"/><line x1="123.5" y1="849.07" x2="129.50" y2="849.07" stroke="#5a5a5a"/><line x1="123.5" y1="817.28" x2="126.70" y2="817.28" stroke="#5a5a5a"/><line x1="123.5" y1="785.49" x2="129.50" y2="785.49" stroke="#5a5a5a"/><line x1="154.60" y1="1103.4" x2="154.60" y2="1097.40" stroke="#111"/><line x1="185.67" y1="1103.4" x2="185.67" y2="1100.20" stroke="#111"/><line x1="216.74" y1="1103.4" x2="216.74" y2="1097.40" stroke="#111"/><line x1="247.81" y1="1103.4" x2="247.81" y2="1100.20" stroke="#111"/><line x1="278.88" y1="1103.4" x2="278.88" y2="1097.40" stroke="#111"/><line x1="309.95" y1="1103.4" x2="309.95" y2="1100.20" stroke="#111"/><line x1="341.03" y1="1103.4" x2="341.03" y2="1097.40" stroke="#111"/><line x1="372.10" y1="1103.4" x2="372.10" y2="1100.20" stroke="#111"/><line x1="403.17" y1="1103.4" x2="403.17" y2="1097.40" stroke="#111"/><line x1="434.24" y1="1103.4" x2="434.24" y2="1100.20" stroke="#111"/><line x1="465.31" y1="1103.4" x2="465.31" y2="1097.40" stroke="#111"/><line x1="496.38" y1="1103.4" x2="496.38" y2="1100.20" stroke="#111"/><line x1="527.45" y1="1103.4" x2="527.45" y2="1097.40" stroke="#111"/><line x1="558.52" y1="1103.4" x2="558.52" y2="1100.20" stroke="#111"/><line x1="555.90" y1="1071.60" x2="558.9" y2="1071.60" stroke="#111"/><line x1="551.90" y1="1039.80" x2="558.9" y2="1039.80" stroke="#111"/><line x1="555.90" y1="1008.00" x2="558.9" y2="1008.00" stroke="#111"/><line x1="551.90" y1="976.20" x2="558.9" y2="976.20" stroke="#111"/><line x1="555.90" y1="944.40" x2="558.9" y2="944.40" stroke="#111"/><line x1="551.90" y1="912.60" x2="558.9" y2="912.60" stroke="#111"/><line x1="555.90" y1="880.80" x2="558.9" y2="880.80" stroke="#111"/><line x1="551.90" y1="849.00" x2="558.9" y2="849.00" stroke="#111"/><line x1="555.90" y1="817.20" x2="558.9" y2="817.20" stroke="#111"/><line x1="551.90" y1="785.40" x2="558.9" y2="785.40" stroke="#111"/></g>
<g font-family='"Liberation Serif", serif' font-size="14.5"><text x="115.3" y="1107.70" text-anchor="end" fill="#4a4a4a" stroke="#4a4a4a" stroke-width="0.28">-4</text><text x="115.3" y="1044.12" text-anchor="end" fill="#4a4a4a" stroke="#4a4a4a" stroke-width="0.28">-2</text><text x="115.3" y="980.54" text-anchor="end" fill="#4a4a4a" stroke="#4a4a4a" stroke-width="0.28">0</text><text x="115.3" y="916.95" text-anchor="end" fill="#4a4a4a" stroke="#4a4a4a" stroke-width="0.28">2</text><text x="115.3" y="853.37" text-anchor="end" fill="#4a4a4a" stroke="#4a4a4a" stroke-width="0.28">4</text><text x="115.3" y="789.79" text-anchor="end" fill="#4a4a4a" stroke="#4a4a4a" stroke-width="0.28">6</text><text x="154.60" y="1122.6" text-anchor="middle" fill="#111" stroke="#111" stroke-width="0.28">0</text><text x="216.74" y="1122.6" text-anchor="middle" fill="#111" stroke="#111" stroke-width="0.28">200</text><text x="278.88" y="1122.6" text-anchor="middle" fill="#111" stroke="#111" stroke-width="0.28">400</text><text x="341.03" y="1122.6" text-anchor="middle" fill="#111" stroke="#111" stroke-width="0.28">600</text><text x="403.17" y="1122.6" text-anchor="middle" fill="#111" stroke="#111" stroke-width="0.28">800</text><text x="465.31" y="1122.6" text-anchor="middle" fill="#111" stroke="#111" stroke-width="0.28">1000</text><text x="527.45" y="1122.6" text-anchor="middle" fill="#111" stroke="#111" stroke-width="0.28">1200</text><text x="566.7" y="1108.00" fill="#111" stroke="#111" stroke-width="0.28">75</text><text x="566.7" y="1044.40" fill="#111" stroke="#111" stroke-width="0.28">80</text><text x="566.7" y="980.80" fill="#111" stroke="#111" stroke-width="0.28">85</text><text x="566.7" y="917.20" fill="#111" stroke="#111" stroke-width="0.28">90</text><text x="566.7" y="853.60" fill="#111" stroke="#111" stroke-width="0.28">95</text><text x="566.7" y="790.00" fill="#111" stroke="#111" stroke-width="0.28">100</text></g>
<text x="341.2" y="1152.1" text-anchor="middle" font-family='"Liberation Serif", serif' font-size="18.2" fill="#111" stroke="#111" stroke-width="0.28">Temperature /°C</text>
<text transform="translate(91.0,928.5) rotate(-90)" text-anchor="middle" font-family='"Liberation Serif", serif' font-size="17.8" fill="#111" stroke="#111" stroke-width="0.28">DSC/(mW/mg)</text>
<text transform="translate(605.3,927.3) rotate(-90)" text-anchor="middle" font-family='"Liberation Serif", serif' font-size="17.8" fill="#111" stroke="#111" stroke-width="0.28">TG/%</text>
<text x="62.8" y="765.8" font-family='"Liberation Serif", serif' font-size="22.5" font-weight="bold" fill="#000" stroke="#000" stroke-width="0.28">c.</text>
<path d="M165.80,984.10 C167.02,985.50 170.42,989.63 173.10,992.50 C175.78,995.37 178.97,998.62 181.90,1001.30 C184.83,1003.98 187.78,1006.53 190.70,1008.60 C193.62,1010.67 196.48,1012.12 199.40,1013.70 C202.32,1015.28 205.28,1016.77 208.20,1018.10 C211.12,1019.43 214.23,1020.48 216.90,1021.70 C219.57,1022.92 221.77,1023.70 224.20,1025.40 C226.63,1027.10 229.30,1029.72 231.50,1031.90 C233.70,1034.08 235.45,1036.92 237.40,1038.50 C239.35,1040.08 241.02,1040.07 243.20,1041.40 C245.38,1042.73 248.35,1045.20 250.50,1046.50 C252.65,1047.80 253.47,1048.00 256.10,1049.20 C258.73,1050.40 262.20,1052.53 266.30,1053.70 C270.40,1054.87 275.92,1055.85 280.70,1056.20 C285.48,1056.55 290.23,1056.55 295.00,1055.80 C299.77,1055.05 304.53,1053.30 309.30,1051.70 C314.07,1050.10 319.87,1047.47 323.60,1046.20 C327.33,1044.93 330.05,1044.88 331.70,1044.10 C333.35,1043.32 333.03,1042.13 333.50,1041.50 C333.97,1040.87 334.17,1040.08 334.50,1040.30 C334.83,1040.52 334.93,1042.43 335.50,1042.80 C336.07,1043.17 336.17,1043.58 337.90,1042.50 C339.63,1041.42 343.55,1038.50 345.90,1036.30 C348.25,1034.10 349.82,1031.48 352.00,1029.30 C354.18,1027.12 356.67,1025.08 359.00,1023.20 C361.33,1021.32 364.10,1019.75 366.00,1018.00 C367.90,1016.25 369.08,1015.18 370.40,1012.70 C371.72,1010.22 372.95,1006.45 373.90,1003.10 C374.85,999.75 375.45,996.55 376.10,992.60 C376.75,988.65 377.22,983.35 377.80,979.40 C378.38,975.45 378.93,972.55 379.60,968.90 C380.27,965.25 380.85,961.15 381.80,957.50 C382.75,953.85 383.70,950.00 385.30,947.00 C386.90,944.00 389.23,942.20 391.40,939.50 C393.57,936.80 396.28,933.42 398.30,930.80 C400.32,928.18 401.75,926.13 403.50,923.80 C405.25,921.47 406.97,919.02 408.80,916.80 C410.63,914.58 412.45,912.55 414.50,910.50 C416.55,908.45 418.85,906.48 421.10,904.50 C423.35,902.52 425.67,900.50 428.00,898.60 C430.33,896.70 432.77,894.83 435.10,893.10 C437.43,891.37 439.67,889.80 442.00,888.20 C444.33,886.60 446.93,885.12 449.10,883.50 C451.27,881.88 453.07,880.20 455.00,878.50 C456.93,876.80 458.95,874.68 460.70,873.30 C462.45,871.92 463.93,871.17 465.50,870.20 C467.07,869.23 468.43,868.48 470.10,867.50 C471.77,866.52 473.75,865.48 475.50,864.30 C477.25,863.12 479.10,861.65 480.60,860.40 C482.10,859.15 483.33,858.15 484.50,856.80 C485.67,855.45 486.60,854.18 487.60,852.30 C488.60,850.42 489.53,848.03 490.50,845.50 C491.47,842.97 492.33,840.83 493.40,837.10 C494.47,833.37 495.73,827.18 496.90,823.10 C498.07,819.02 499.38,815.18 500.40,812.60 C501.42,810.02 502.13,808.80 503.00,807.60 C503.87,806.40 504.77,805.53 505.60,805.40 C506.43,805.27 507.30,806.03 508.00,806.80 C508.70,807.57 509.08,808.47 509.80,810.00 C510.52,811.53 511.52,813.82 512.30,816.00 C513.08,818.18 513.37,819.20 514.50,823.10 C515.63,827.00 517.55,833.57 519.10,839.40 C520.65,845.23 522.43,852.25 523.80,858.10 C525.17,863.95 526.72,871.77 527.30,874.50" fill="none" stroke="#4c4c4c" stroke-width="3.2" stroke-linecap="round" stroke-linejoin="round"/>
<path d="M165.80,786.70 C166.78,786.80 169.75,786.92 171.70,787.30 C173.65,787.68 176.12,788.47 177.50,789.00 C178.88,789.53 179.32,789.92 180.00,790.50 C180.68,791.08 180.27,791.48 181.60,792.50 C182.93,793.52 185.77,795.03 188.00,796.60 C190.23,798.17 192.67,800.05 195.00,801.90 C197.33,803.75 199.67,805.77 202.00,807.70 C204.33,809.63 206.67,811.65 209.00,813.50 C211.33,815.35 213.65,817.23 216.00,818.80 C218.35,820.37 220.75,821.43 223.10,822.90 C225.45,824.37 227.97,825.85 230.10,827.60 C232.23,829.35 234.25,831.50 235.90,833.40 C237.55,835.30 238.65,836.95 240.00,839.00 C241.35,841.05 242.35,843.22 244.00,845.70 C245.65,848.18 247.95,850.98 249.90,853.90 C251.85,856.82 253.77,860.08 255.70,863.20 C257.63,866.32 259.55,869.48 261.50,872.60 C263.45,875.72 265.45,878.98 267.40,881.90 C269.35,884.82 271.27,887.57 273.20,890.10 C275.13,892.63 277.05,894.97 279.00,897.10 C280.95,899.23 282.95,900.95 284.90,902.90 C286.85,904.85 288.57,907.05 290.70,908.80 C292.83,910.55 295.82,912.28 297.70,913.40 C299.58,914.52 300.60,914.72 302.00,915.50 C303.40,916.28 304.83,917.43 306.10,918.10 C307.37,918.77 308.43,918.92 309.60,919.50 C310.77,920.08 311.78,921.53 313.10,921.60 C314.42,921.67 316.18,919.17 317.50,919.90 C318.82,920.63 319.83,925.78 321.00,926.00 C322.17,926.22 323.62,920.90 324.50,921.20 C325.38,921.50 325.42,927.37 326.30,927.80 C327.18,928.23 328.93,923.67 329.80,923.80 C330.67,923.93 330.80,928.15 331.50,928.60 C332.20,929.05 333.12,926.50 334.00,926.50 C334.88,926.50 335.60,928.02 336.80,928.60 C338.00,929.18 339.75,928.97 341.20,930.00 C342.65,931.03 344.05,933.20 345.50,934.80 C346.95,936.40 348.58,939.02 349.90,939.60 C351.22,940.18 352.23,937.93 353.40,938.30 C354.57,938.67 355.80,940.48 356.90,941.80 C358.00,943.12 359.07,944.75 360.00,946.20 C360.93,947.65 361.35,948.62 362.50,950.50 C363.65,952.38 365.28,954.87 366.90,957.50 C368.52,960.13 370.73,963.67 372.20,966.30 C373.67,968.93 374.68,971.27 375.70,973.30 C376.72,975.33 376.85,977.05 378.30,978.50 C379.75,979.95 382.22,980.83 384.40,982.00 C386.58,983.17 389.35,984.18 391.40,985.50 C393.45,986.82 395.52,989.43 396.70,989.90 C397.88,990.37 397.92,988.45 398.50,988.30 C399.08,988.15 399.18,988.15 400.20,989.00 C401.22,989.85 402.87,991.72 404.60,993.40 C406.33,995.08 408.70,996.83 410.60,999.10 C412.50,1001.37 414.10,1004.23 416.00,1007.00 C417.90,1009.77 420.33,1013.53 422.00,1015.70 C423.67,1017.87 424.47,1018.72 426.00,1020.00 C427.53,1021.28 429.20,1022.35 431.20,1023.40 C433.20,1024.45 435.45,1025.53 438.00,1026.30 C440.55,1027.07 443.67,1027.45 446.50,1028.00 C449.33,1028.55 451.93,1029.10 455.00,1029.60 C458.07,1030.10 462.07,1030.55 464.90,1031.00 C467.73,1031.45 470.32,1031.80 472.00,1032.30 C473.68,1032.80 474.15,1033.97 475.00,1034.00 C475.85,1034.03 476.27,1032.58 477.10,1032.50 C477.93,1032.42 478.52,1032.88 480.00,1033.50 C481.48,1034.12 483.92,1035.33 486.00,1036.20 C488.08,1037.07 490.17,1037.87 492.50,1038.70 C494.83,1039.53 497.45,1040.43 500.00,1041.20 C502.55,1041.97 505.47,1042.42 507.80,1043.30 C510.13,1044.18 511.95,1045.38 514.00,1046.50 C516.05,1047.62 518.43,1049.18 520.10,1050.00 C521.77,1050.82 522.73,1051.13 524.00,1051.40 C525.27,1051.67 527.08,1051.57 527.70,1051.60" fill="none" stroke="#e83c40" stroke-width="3.3" stroke-linecap="round" stroke-linejoin="round"/>
<line x1="286.40" y1="901.60" x2="305.34" y2="894.76" stroke="#000" stroke-width="1.4"/><path d="M313.80,891.70 L305.48,898.11 L303.31,892.09 Z" fill="#000"/>
<line x1="225.00" y1="1024.20" x2="243.86" y2="1017.22" stroke="#000" stroke-width="1.4"/><path d="M252.30,1014.10 L244.03,1020.57 L241.81,1014.57 Z" fill="#000"/>
<line x1="479.90" y1="827.70" x2="479.90" y2="811.20" stroke="#000" stroke-width="1.5"/><path d="M479.90,803.20 L482.90,812.20 L476.90,812.20 Z" fill="#000"/>
<text x="316.5" y="898.6" font-family='"Liberation Serif", serif' font-size="17.3" fill="#111" stroke="#111" stroke-width="0.28">TG</text>
<text x="256.5" y="1022.3" font-family='"Liberation Serif", serif' font-size="17.3" fill="#111" stroke="#111" stroke-width="0.28">DSC</text>
<text x="419.8" y="821.9" font-family='"Liberation Serif", serif' font-size="17.5" fill="#111" stroke="#111" stroke-width="0.28">Exo up</text>
<text x="472.3" y="796.3" font-family='"Liberation Serif", serif' font-size="18" font-weight="bold" fill="#111" stroke="#111" stroke-width="0.28">1129.3°C</text>
</g>
</svg>
</body></html>
